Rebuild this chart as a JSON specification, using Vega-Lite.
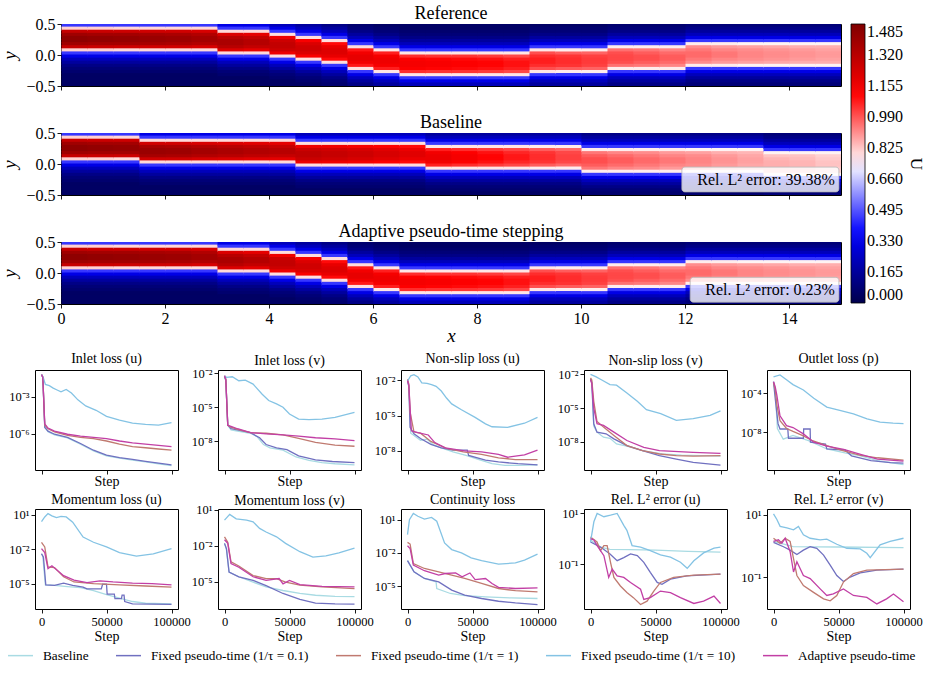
{
"$schema":"https://vega.github.io/schema/vega-lite/v6.json",
"background":"#ffffff",
"padding":{"left":0,"top":4,"right":4,"bottom":4},
"config":{
 "font":"Liberation Serif",
 "view":{"stroke":"#000","strokeWidth":1},
 "axis":{"domain":false,"grid":false,"tickColor":"#000","tickSize":4,"tickWidth":0.9,"labelColor":"#000","titleColor":"#000","titleFontWeight":"normal","labelFlush":false,"labelPadding":2},
 "title":{"fontWeight":"normal","color":"#000","offset":4},
 "legend":{"labelColor":"#000","titleColor":"#000"},
 "range":{"category":["#a9dbe3","#7070c0","#c07a70","#84c3e4","#c23fa5"]}
},
"datasets":{
"R":[
{"x":0,"y":0.45,"u":0.45},{"x":0,"y":0.4,"u":0.81},{"x":0,"y":0.35,"u":1.28},{"x":0,"y":0.3,"u":1.39},{"x":0,"y":0.25,"u":1.44},{"x":0,"y":0.2,"u":1.44},{"x":0,"y":0.15,"u":1.39},{"x":0,"y":0.1,"u":1.28},{"x":0,"y":0.05,"u":0.81},{"x":0,"y":0,"u":0.45},{"x":0,"y":-0.05,"u":0.32},{"x":0,"y":-0.1,"u":0.23},{"x":0,"y":-0.15,"u":0.17},{"x":0,"y":-0.2,"u":0.12},{"x":0,"y":-0.25,"u":0.09},{"x":0,"y":-0.3,"u":0.07},{"x":0,"y":-0.35,"u":0.05},{"x":0,"y":-0.4,"u":0.05},{"x":0,"y":-0.45,"u":0.05},{"x":0,"y":-0.5,"u":0.05},
{"x":0.5,"y":0.45,"u":0.45},{"x":0.5,"y":0.4,"u":0.81},{"x":0.5,"y":0.35,"u":1.27},{"x":0.5,"y":0.3,"u":1.38},{"x":0.5,"y":0.25,"u":1.43},{"x":0.5,"y":0.2,"u":1.43},{"x":0.5,"y":0.15,"u":1.38},{"x":0.5,"y":0.1,"u":1.27},{"x":0.5,"y":0.05,"u":0.81},{"x":0.5,"y":0,"u":0.45},{"x":0.5,"y":-0.05,"u":0.32},{"x":0.5,"y":-0.1,"u":0.23},{"x":0.5,"y":-0.15,"u":0.17},{"x":0.5,"y":-0.2,"u":0.12},{"x":0.5,"y":-0.25,"u":0.09},{"x":0.5,"y":-0.3,"u":0.07},{"x":0.5,"y":-0.35,"u":0.05},{"x":0.5,"y":-0.4,"u":0.05},{"x":0.5,"y":-0.45,"u":0.05},{"x":0.5,"y":-0.5,"u":0.05},
{"x":1,"y":0.45,"u":0.45},{"x":1,"y":0.4,"u":0.8},{"x":1,"y":0.35,"u":1.26},{"x":1,"y":0.3,"u":1.38},{"x":1,"y":0.25,"u":1.42},{"x":1,"y":0.2,"u":1.42},{"x":1,"y":0.15,"u":1.38},{"x":1,"y":0.1,"u":1.26},{"x":1,"y":0.05,"u":0.8},{"x":1,"y":0,"u":0.45},{"x":1,"y":-0.05,"u":0.32},{"x":1,"y":-0.1,"u":0.23},{"x":1,"y":-0.15,"u":0.17},{"x":1,"y":-0.2,"u":0.12},{"x":1,"y":-0.25,"u":0.09},{"x":1,"y":-0.3,"u":0.07},{"x":1,"y":-0.35,"u":0.05},{"x":1,"y":-0.4,"u":0.05},{"x":1,"y":-0.45,"u":0.05},{"x":1,"y":-0.5,"u":0.05},
{"x":1.5,"y":0.45,"u":0.45},{"x":1.5,"y":0.4,"u":0.8},{"x":1.5,"y":0.35,"u":1.25},{"x":1.5,"y":0.3,"u":1.37},{"x":1.5,"y":0.25,"u":1.41},{"x":1.5,"y":0.2,"u":1.41},{"x":1.5,"y":0.15,"u":1.37},{"x":1.5,"y":0.1,"u":1.25},{"x":1.5,"y":0.05,"u":0.8},{"x":1.5,"y":0,"u":0.45},{"x":1.5,"y":-0.05,"u":0.32},{"x":1.5,"y":-0.1,"u":0.23},{"x":1.5,"y":-0.15,"u":0.17},{"x":1.5,"y":-0.2,"u":0.12},{"x":1.5,"y":-0.25,"u":0.09},{"x":1.5,"y":-0.3,"u":0.07},{"x":1.5,"y":-0.35,"u":0.05},{"x":1.5,"y":-0.4,"u":0.05},{"x":1.5,"y":-0.45,"u":0.05},{"x":1.5,"y":-0.5,"u":0.05},
{"x":2,"y":0.45,"u":0.45},{"x":2,"y":0.4,"u":0.8},{"x":2,"y":0.35,"u":1.25},{"x":2,"y":0.3,"u":1.36},{"x":2,"y":0.25,"u":1.4},{"x":2,"y":0.2,"u":1.4},{"x":2,"y":0.15,"u":1.36},{"x":2,"y":0.1,"u":1.25},{"x":2,"y":0.05,"u":0.8},{"x":2,"y":0,"u":0.45},{"x":2,"y":-0.05,"u":0.32},{"x":2,"y":-0.1,"u":0.23},{"x":2,"y":-0.15,"u":0.17},{"x":2,"y":-0.2,"u":0.12},{"x":2,"y":-0.25,"u":0.09},{"x":2,"y":-0.3,"u":0.07},{"x":2,"y":-0.35,"u":0.05},{"x":2,"y":-0.4,"u":0.05},{"x":2,"y":-0.45,"u":0.05},{"x":2,"y":-0.5,"u":0.05},
{"x":2.5,"y":0.45,"u":0.45},{"x":2.5,"y":0.4,"u":0.8},{"x":2.5,"y":0.35,"u":1.23},{"x":2.5,"y":0.3,"u":1.34},{"x":2.5,"y":0.25,"u":1.38},{"x":2.5,"y":0.2,"u":1.38},{"x":2.5,"y":0.15,"u":1.34},{"x":2.5,"y":0.1,"u":1.23},{"x":2.5,"y":0.05,"u":0.8},{"x":2.5,"y":0,"u":0.45},{"x":2.5,"y":-0.05,"u":0.32},{"x":2.5,"y":-0.1,"u":0.23},{"x":2.5,"y":-0.15,"u":0.17},{"x":2.5,"y":-0.2,"u":0.12},{"x":2.5,"y":-0.25,"u":0.09},{"x":2.5,"y":-0.3,"u":0.07},{"x":2.5,"y":-0.35,"u":0.05},{"x":2.5,"y":-0.4,"u":0.05},{"x":2.5,"y":-0.45,"u":0.05},{"x":2.5,"y":-0.5,"u":0.05},
{"x":3,"y":0.45,"u":0.32},{"x":3,"y":0.4,"u":0.45},{"x":3,"y":0.35,"u":0.8},{"x":3,"y":0.3,"u":1.22},{"x":3,"y":0.25,"u":1.32},{"x":3,"y":0.2,"u":1.36},{"x":3,"y":0.15,"u":1.36},{"x":3,"y":0.1,"u":1.32},{"x":3,"y":0.05,"u":1.22},{"x":3,"y":0,"u":0.8},{"x":3,"y":-0.05,"u":0.45},{"x":3,"y":-0.1,"u":0.32},{"x":3,"y":-0.15,"u":0.23},{"x":3,"y":-0.2,"u":0.17},{"x":3,"y":-0.25,"u":0.12},{"x":3,"y":-0.3,"u":0.09},{"x":3,"y":-0.35,"u":0.07},{"x":3,"y":-0.4,"u":0.05},{"x":3,"y":-0.45,"u":0.05},{"x":3,"y":-0.5,"u":0.05},
{"x":3.5,"y":0.45,"u":0.32},{"x":3.5,"y":0.4,"u":0.45},{"x":3.5,"y":0.35,"u":0.8},{"x":3.5,"y":0.3,"u":1.19},{"x":3.5,"y":0.25,"u":1.29},{"x":3.5,"y":0.2,"u":1.33},{"x":3.5,"y":0.15,"u":1.33},{"x":3.5,"y":0.1,"u":1.29},{"x":3.5,"y":0.05,"u":1.19},{"x":3.5,"y":0,"u":0.8},{"x":3.5,"y":-0.05,"u":0.45},{"x":3.5,"y":-0.1,"u":0.32},{"x":3.5,"y":-0.15,"u":0.23},{"x":3.5,"y":-0.2,"u":0.17},{"x":3.5,"y":-0.25,"u":0.12},{"x":3.5,"y":-0.3,"u":0.09},{"x":3.5,"y":-0.35,"u":0.07},{"x":3.5,"y":-0.4,"u":0.05},{"x":3.5,"y":-0.45,"u":0.05},{"x":3.5,"y":-0.5,"u":0.05},
{"x":4,"y":0.45,"u":0.23},{"x":4,"y":0.4,"u":0.32},{"x":4,"y":0.35,"u":0.45},{"x":4,"y":0.3,"u":0.79},{"x":4,"y":0.25,"u":1.16},{"x":4,"y":0.2,"u":1.26},{"x":4,"y":0.15,"u":1.29},{"x":4,"y":0.1,"u":1.29},{"x":4,"y":0.05,"u":1.26},{"x":4,"y":0,"u":1.16},{"x":4,"y":-0.05,"u":0.79},{"x":4,"y":-0.1,"u":0.45},{"x":4,"y":-0.15,"u":0.32},{"x":4,"y":-0.2,"u":0.23},{"x":4,"y":-0.25,"u":0.17},{"x":4,"y":-0.3,"u":0.12},{"x":4,"y":-0.35,"u":0.09},{"x":4,"y":-0.4,"u":0.07},{"x":4,"y":-0.45,"u":0.05},{"x":4,"y":-0.5,"u":0.05},
{"x":4.5,"y":0.45,"u":0.17},{"x":4.5,"y":0.4,"u":0.23},{"x":4.5,"y":0.35,"u":0.32},{"x":4.5,"y":0.3,"u":0.45},{"x":4.5,"y":0.25,"u":0.79},{"x":4.5,"y":0.2,"u":1.13},{"x":4.5,"y":0.15,"u":1.22},{"x":4.5,"y":0.1,"u":1.25},{"x":4.5,"y":0.05,"u":1.25},{"x":4.5,"y":0,"u":1.22},{"x":4.5,"y":-0.05,"u":1.13},{"x":4.5,"y":-0.1,"u":0.79},{"x":4.5,"y":-0.15,"u":0.45},{"x":4.5,"y":-0.2,"u":0.32},{"x":4.5,"y":-0.25,"u":0.23},{"x":4.5,"y":-0.3,"u":0.17},{"x":4.5,"y":-0.35,"u":0.12},{"x":4.5,"y":-0.4,"u":0.09},{"x":4.5,"y":-0.45,"u":0.07},{"x":4.5,"y":-0.5,"u":0.05},
{"x":5,"y":0.45,"u":0.12},{"x":5,"y":0.4,"u":0.17},{"x":5,"y":0.35,"u":0.23},{"x":5,"y":0.3,"u":0.32},{"x":5,"y":0.25,"u":0.45},{"x":5,"y":0.2,"u":0.79},{"x":5,"y":0.15,"u":1.1},{"x":5,"y":0.1,"u":1.18},{"x":5,"y":0.05,"u":1.21},{"x":5,"y":0,"u":1.21},{"x":5,"y":-0.05,"u":1.18},{"x":5,"y":-0.1,"u":1.1},{"x":5,"y":-0.15,"u":0.79},{"x":5,"y":-0.2,"u":0.45},{"x":5,"y":-0.25,"u":0.32},{"x":5,"y":-0.3,"u":0.23},{"x":5,"y":-0.35,"u":0.17},{"x":5,"y":-0.4,"u":0.12},{"x":5,"y":-0.45,"u":0.09},{"x":5,"y":-0.5,"u":0.07},
{"x":5.5,"y":0.45,"u":0.07},{"x":5.5,"y":0.4,"u":0.09},{"x":5.5,"y":0.35,"u":0.12},{"x":5.5,"y":0.3,"u":0.17},{"x":5.5,"y":0.25,"u":0.23},{"x":5.5,"y":0.2,"u":0.32},{"x":5.5,"y":0.15,"u":0.45},{"x":5.5,"y":0.1,"u":0.79},{"x":5.5,"y":0.05,"u":1.08},{"x":5.5,"y":0,"u":1.15},{"x":5.5,"y":-0.05,"u":1.18},{"x":5.5,"y":-0.1,"u":1.18},{"x":5.5,"y":-0.15,"u":1.15},{"x":5.5,"y":-0.2,"u":1.08},{"x":5.5,"y":-0.25,"u":0.79},{"x":5.5,"y":-0.3,"u":0.45},{"x":5.5,"y":-0.35,"u":0.32},{"x":5.5,"y":-0.4,"u":0.23},{"x":5.5,"y":-0.45,"u":0.17},{"x":5.5,"y":-0.5,"u":0.12},
{"x":6,"y":0.45,"u":0.05},{"x":6,"y":0.4,"u":0.07},{"x":6,"y":0.35,"u":0.09},{"x":6,"y":0.3,"u":0.12},{"x":6,"y":0.25,"u":0.17},{"x":6,"y":0.2,"u":0.23},{"x":6,"y":0.15,"u":0.32},{"x":6,"y":0.1,"u":0.45},{"x":6,"y":0.05,"u":0.78},{"x":6,"y":0,"u":1.07},{"x":6,"y":-0.05,"u":1.14},{"x":6,"y":-0.1,"u":1.16},{"x":6,"y":-0.15,"u":1.16},{"x":6,"y":-0.2,"u":1.14},{"x":6,"y":-0.25,"u":1.07},{"x":6,"y":-0.3,"u":0.78},{"x":6,"y":-0.35,"u":0.45},{"x":6,"y":-0.4,"u":0.32},{"x":6,"y":-0.45,"u":0.23},{"x":6,"y":-0.5,"u":0.17},
{"x":6.5,"y":0.45,"u":0.05},{"x":6.5,"y":0.4,"u":0.05},{"x":6.5,"y":0.35,"u":0.07},{"x":6.5,"y":0.3,"u":0.09},{"x":6.5,"y":0.25,"u":0.12},{"x":6.5,"y":0.2,"u":0.17},{"x":6.5,"y":0.15,"u":0.23},{"x":6.5,"y":0.1,"u":0.32},{"x":6.5,"y":0.05,"u":0.45},{"x":6.5,"y":0,"u":0.78},{"x":6.5,"y":-0.05,"u":1.05},{"x":6.5,"y":-0.1,"u":1.12},{"x":6.5,"y":-0.15,"u":1.14},{"x":6.5,"y":-0.2,"u":1.14},{"x":6.5,"y":-0.25,"u":1.12},{"x":6.5,"y":-0.3,"u":1.05},{"x":6.5,"y":-0.35,"u":0.78},{"x":6.5,"y":-0.4,"u":0.45},{"x":6.5,"y":-0.45,"u":0.32},{"x":6.5,"y":-0.5,"u":0.23},
{"x":7,"y":0.45,"u":0.05},{"x":7,"y":0.4,"u":0.05},{"x":7,"y":0.35,"u":0.07},{"x":7,"y":0.3,"u":0.09},{"x":7,"y":0.25,"u":0.12},{"x":7,"y":0.2,"u":0.17},{"x":7,"y":0.15,"u":0.23},{"x":7,"y":0.1,"u":0.32},{"x":7,"y":0.05,"u":0.45},{"x":7,"y":0,"u":0.78},{"x":7,"y":-0.05,"u":1.04},{"x":7,"y":-0.1,"u":1.11},{"x":7,"y":-0.15,"u":1.13},{"x":7,"y":-0.2,"u":1.13},{"x":7,"y":-0.25,"u":1.11},{"x":7,"y":-0.3,"u":1.04},{"x":7,"y":-0.35,"u":0.78},{"x":7,"y":-0.4,"u":0.45},{"x":7,"y":-0.45,"u":0.32},{"x":7,"y":-0.5,"u":0.23},
{"x":7.5,"y":0.45,"u":0.05},{"x":7.5,"y":0.4,"u":0.05},{"x":7.5,"y":0.35,"u":0.07},{"x":7.5,"y":0.3,"u":0.09},{"x":7.5,"y":0.25,"u":0.12},{"x":7.5,"y":0.2,"u":0.17},{"x":7.5,"y":0.15,"u":0.23},{"x":7.5,"y":0.1,"u":0.32},{"x":7.5,"y":0.05,"u":0.45},{"x":7.5,"y":0,"u":0.78},{"x":7.5,"y":-0.05,"u":1.04},{"x":7.5,"y":-0.1,"u":1.1},{"x":7.5,"y":-0.15,"u":1.12},{"x":7.5,"y":-0.2,"u":1.12},{"x":7.5,"y":-0.25,"u":1.1},{"x":7.5,"y":-0.3,"u":1.04},{"x":7.5,"y":-0.35,"u":0.78},{"x":7.5,"y":-0.4,"u":0.45},{"x":7.5,"y":-0.45,"u":0.32},{"x":7.5,"y":-0.5,"u":0.23},
{"x":8,"y":0.45,"u":0.05},{"x":8,"y":0.4,"u":0.05},{"x":8,"y":0.35,"u":0.07},{"x":8,"y":0.3,"u":0.09},{"x":8,"y":0.25,"u":0.12},{"x":8,"y":0.2,"u":0.17},{"x":8,"y":0.15,"u":0.23},{"x":8,"y":0.1,"u":0.32},{"x":8,"y":0.05,"u":0.45},{"x":8,"y":0,"u":0.78},{"x":8,"y":-0.05,"u":1.03},{"x":8,"y":-0.1,"u":1.09},{"x":8,"y":-0.15,"u":1.11},{"x":8,"y":-0.2,"u":1.11},{"x":8,"y":-0.25,"u":1.09},{"x":8,"y":-0.3,"u":1.03},{"x":8,"y":-0.35,"u":0.78},{"x":8,"y":-0.4,"u":0.45},{"x":8,"y":-0.45,"u":0.32},{"x":8,"y":-0.5,"u":0.23},
{"x":8.5,"y":0.45,"u":0.05},{"x":8.5,"y":0.4,"u":0.05},{"x":8.5,"y":0.35,"u":0.07},{"x":8.5,"y":0.3,"u":0.09},{"x":8.5,"y":0.25,"u":0.12},{"x":8.5,"y":0.2,"u":0.17},{"x":8.5,"y":0.15,"u":0.23},{"x":8.5,"y":0.1,"u":0.32},{"x":8.5,"y":0.05,"u":0.45},{"x":8.5,"y":0,"u":0.78},{"x":8.5,"y":-0.05,"u":1.01},{"x":8.5,"y":-0.1,"u":1.07},{"x":8.5,"y":-0.15,"u":1.09},{"x":8.5,"y":-0.2,"u":1.09},{"x":8.5,"y":-0.25,"u":1.07},{"x":8.5,"y":-0.3,"u":1.01},{"x":8.5,"y":-0.35,"u":0.78},{"x":8.5,"y":-0.4,"u":0.45},{"x":8.5,"y":-0.45,"u":0.32},{"x":8.5,"y":-0.5,"u":0.23},
{"x":9,"y":0.45,"u":0.05},{"x":9,"y":0.4,"u":0.07},{"x":9,"y":0.35,"u":0.09},{"x":9,"y":0.3,"u":0.12},{"x":9,"y":0.25,"u":0.17},{"x":9,"y":0.2,"u":0.23},{"x":9,"y":0.15,"u":0.32},{"x":9,"y":0.1,"u":0.45},{"x":9,"y":0.05,"u":0.78},{"x":9,"y":0,"u":1.0},{"x":9,"y":-0.05,"u":1.05},{"x":9,"y":-0.1,"u":1.07},{"x":9,"y":-0.15,"u":1.07},{"x":9,"y":-0.2,"u":1.05},{"x":9,"y":-0.25,"u":1.0},{"x":9,"y":-0.3,"u":0.78},{"x":9,"y":-0.35,"u":0.45},{"x":9,"y":-0.4,"u":0.32},{"x":9,"y":-0.45,"u":0.23},{"x":9,"y":-0.5,"u":0.17},
{"x":9.5,"y":0.45,"u":0.05},{"x":9.5,"y":0.4,"u":0.07},{"x":9.5,"y":0.35,"u":0.09},{"x":9.5,"y":0.3,"u":0.12},{"x":9.5,"y":0.25,"u":0.17},{"x":9.5,"y":0.2,"u":0.23},{"x":9.5,"y":0.15,"u":0.32},{"x":9.5,"y":0.1,"u":0.45},{"x":9.5,"y":0.05,"u":0.77},{"x":9.5,"y":0,"u":0.98},{"x":9.5,"y":-0.05,"u":1.04},{"x":9.5,"y":-0.1,"u":1.05},{"x":9.5,"y":-0.15,"u":1.05},{"x":9.5,"y":-0.2,"u":1.04},{"x":9.5,"y":-0.25,"u":0.98},{"x":9.5,"y":-0.3,"u":0.77},{"x":9.5,"y":-0.35,"u":0.45},{"x":9.5,"y":-0.4,"u":0.32},{"x":9.5,"y":-0.45,"u":0.23},{"x":9.5,"y":-0.5,"u":0.17},
{"x":10,"y":0.45,"u":0.05},{"x":10,"y":0.4,"u":0.07},{"x":10,"y":0.35,"u":0.09},{"x":10,"y":0.3,"u":0.12},{"x":10,"y":0.25,"u":0.17},{"x":10,"y":0.2,"u":0.23},{"x":10,"y":0.15,"u":0.32},{"x":10,"y":0.1,"u":0.45},{"x":10,"y":0.05,"u":0.77},{"x":10,"y":0,"u":0.97},{"x":10,"y":-0.05,"u":1.02},{"x":10,"y":-0.1,"u":1.03},{"x":10,"y":-0.15,"u":1.03},{"x":10,"y":-0.2,"u":1.02},{"x":10,"y":-0.25,"u":0.97},{"x":10,"y":-0.3,"u":0.77},{"x":10,"y":-0.35,"u":0.45},{"x":10,"y":-0.4,"u":0.32},{"x":10,"y":-0.45,"u":0.23},{"x":10,"y":-0.5,"u":0.17},
{"x":10.5,"y":0.45,"u":0.07},{"x":10.5,"y":0.4,"u":0.09},{"x":10.5,"y":0.35,"u":0.12},{"x":10.5,"y":0.3,"u":0.17},{"x":10.5,"y":0.25,"u":0.23},{"x":10.5,"y":0.2,"u":0.32},{"x":10.5,"y":0.15,"u":0.45},{"x":10.5,"y":0.1,"u":0.77},{"x":10.5,"y":0.05,"u":0.95},{"x":10.5,"y":0,"u":1.0},{"x":10.5,"y":-0.05,"u":1.01},{"x":10.5,"y":-0.1,"u":1.01},{"x":10.5,"y":-0.15,"u":1.0},{"x":10.5,"y":-0.2,"u":0.95},{"x":10.5,"y":-0.25,"u":0.77},{"x":10.5,"y":-0.3,"u":0.45},{"x":10.5,"y":-0.35,"u":0.32},{"x":10.5,"y":-0.4,"u":0.23},{"x":10.5,"y":-0.45,"u":0.17},{"x":10.5,"y":-0.5,"u":0.12},
{"x":11,"y":0.45,"u":0.07},{"x":11,"y":0.4,"u":0.09},{"x":11,"y":0.35,"u":0.12},{"x":11,"y":0.3,"u":0.17},{"x":11,"y":0.25,"u":0.23},{"x":11,"y":0.2,"u":0.32},{"x":11,"y":0.15,"u":0.45},{"x":11,"y":0.1,"u":0.77},{"x":11,"y":0.05,"u":0.94},{"x":11,"y":0,"u":0.98},{"x":11,"y":-0.05,"u":1.0},{"x":11,"y":-0.1,"u":1.0},{"x":11,"y":-0.15,"u":0.98},{"x":11,"y":-0.2,"u":0.94},{"x":11,"y":-0.25,"u":0.77},{"x":11,"y":-0.3,"u":0.45},{"x":11,"y":-0.35,"u":0.32},{"x":11,"y":-0.4,"u":0.23},{"x":11,"y":-0.45,"u":0.17},{"x":11,"y":-0.5,"u":0.12},
{"x":11.5,"y":0.45,"u":0.07},{"x":11.5,"y":0.4,"u":0.09},{"x":11.5,"y":0.35,"u":0.12},{"x":11.5,"y":0.3,"u":0.17},{"x":11.5,"y":0.25,"u":0.23},{"x":11.5,"y":0.2,"u":0.32},{"x":11.5,"y":0.15,"u":0.45},{"x":11.5,"y":0.1,"u":0.77},{"x":11.5,"y":0.05,"u":0.92},{"x":11.5,"y":0,"u":0.96},{"x":11.5,"y":-0.05,"u":0.98},{"x":11.5,"y":-0.1,"u":0.98},{"x":11.5,"y":-0.15,"u":0.96},{"x":11.5,"y":-0.2,"u":0.92},{"x":11.5,"y":-0.25,"u":0.77},{"x":11.5,"y":-0.3,"u":0.45},{"x":11.5,"y":-0.35,"u":0.32},{"x":11.5,"y":-0.4,"u":0.23},{"x":11.5,"y":-0.45,"u":0.17},{"x":11.5,"y":-0.5,"u":0.12},
{"x":12,"y":0.45,"u":0.09},{"x":12,"y":0.4,"u":0.12},{"x":12,"y":0.35,"u":0.17},{"x":12,"y":0.3,"u":0.23},{"x":12,"y":0.25,"u":0.32},{"x":12,"y":0.2,"u":0.45},{"x":12,"y":0.15,"u":0.77},{"x":12,"y":0.1,"u":0.91},{"x":12,"y":0.05,"u":0.94},{"x":12,"y":0,"u":0.96},{"x":12,"y":-0.05,"u":0.96},{"x":12,"y":-0.1,"u":0.94},{"x":12,"y":-0.15,"u":0.91},{"x":12,"y":-0.2,"u":0.77},{"x":12,"y":-0.25,"u":0.45},{"x":12,"y":-0.3,"u":0.32},{"x":12,"y":-0.35,"u":0.23},{"x":12,"y":-0.4,"u":0.17},{"x":12,"y":-0.45,"u":0.12},{"x":12,"y":-0.5,"u":0.09},
{"x":12.5,"y":0.45,"u":0.09},{"x":12.5,"y":0.4,"u":0.12},{"x":12.5,"y":0.35,"u":0.17},{"x":12.5,"y":0.3,"u":0.23},{"x":12.5,"y":0.25,"u":0.32},{"x":12.5,"y":0.2,"u":0.45},{"x":12.5,"y":0.15,"u":0.77},{"x":12.5,"y":0.1,"u":0.89},{"x":12.5,"y":0.05,"u":0.92},{"x":12.5,"y":0,"u":0.94},{"x":12.5,"y":-0.05,"u":0.94},{"x":12.5,"y":-0.1,"u":0.92},{"x":12.5,"y":-0.15,"u":0.89},{"x":12.5,"y":-0.2,"u":0.77},{"x":12.5,"y":-0.25,"u":0.45},{"x":12.5,"y":-0.3,"u":0.32},{"x":12.5,"y":-0.35,"u":0.23},{"x":12.5,"y":-0.4,"u":0.17},{"x":12.5,"y":-0.45,"u":0.12},{"x":12.5,"y":-0.5,"u":0.09},
{"x":13,"y":0.45,"u":0.09},{"x":13,"y":0.4,"u":0.12},{"x":13,"y":0.35,"u":0.17},{"x":13,"y":0.3,"u":0.23},{"x":13,"y":0.25,"u":0.32},{"x":13,"y":0.2,"u":0.45},{"x":13,"y":0.15,"u":0.76},{"x":13,"y":0.1,"u":0.88},{"x":13,"y":0.05,"u":0.91},{"x":13,"y":0,"u":0.92},{"x":13,"y":-0.05,"u":0.92},{"x":13,"y":-0.1,"u":0.91},{"x":13,"y":-0.15,"u":0.88},{"x":13,"y":-0.2,"u":0.76},{"x":13,"y":-0.25,"u":0.45},{"x":13,"y":-0.3,"u":0.32},{"x":13,"y":-0.35,"u":0.23},{"x":13,"y":-0.4,"u":0.17},{"x":13,"y":-0.45,"u":0.12},{"x":13,"y":-0.5,"u":0.09},
{"x":13.5,"y":0.45,"u":0.09},{"x":13.5,"y":0.4,"u":0.12},{"x":13.5,"y":0.35,"u":0.17},{"x":13.5,"y":0.3,"u":0.23},{"x":13.5,"y":0.25,"u":0.32},{"x":13.5,"y":0.2,"u":0.45},{"x":13.5,"y":0.15,"u":0.76},{"x":13.5,"y":0.1,"u":0.87},{"x":13.5,"y":0.05,"u":0.9},{"x":13.5,"y":0,"u":0.91},{"x":13.5,"y":-0.05,"u":0.91},{"x":13.5,"y":-0.1,"u":0.9},{"x":13.5,"y":-0.15,"u":0.87},{"x":13.5,"y":-0.2,"u":0.76},{"x":13.5,"y":-0.25,"u":0.45},{"x":13.5,"y":-0.3,"u":0.32},{"x":13.5,"y":-0.35,"u":0.23},{"x":13.5,"y":-0.4,"u":0.17},{"x":13.5,"y":-0.45,"u":0.12},{"x":13.5,"y":-0.5,"u":0.09},
{"x":14,"y":0.45,"u":0.09},{"x":14,"y":0.4,"u":0.12},{"x":14,"y":0.35,"u":0.17},{"x":14,"y":0.3,"u":0.23},{"x":14,"y":0.25,"u":0.32},{"x":14,"y":0.2,"u":0.45},{"x":14,"y":0.15,"u":0.76},{"x":14,"y":0.1,"u":0.86},{"x":14,"y":0.05,"u":0.89},{"x":14,"y":0,"u":0.9},{"x":14,"y":-0.05,"u":0.9},{"x":14,"y":-0.1,"u":0.89},{"x":14,"y":-0.15,"u":0.86},{"x":14,"y":-0.2,"u":0.76},{"x":14,"y":-0.25,"u":0.45},{"x":14,"y":-0.3,"u":0.32},{"x":14,"y":-0.35,"u":0.23},{"x":14,"y":-0.4,"u":0.17},{"x":14,"y":-0.45,"u":0.12},{"x":14,"y":-0.5,"u":0.09},
{"x":14.5,"y":0.45,"u":0.09},{"x":14.5,"y":0.4,"u":0.12},{"x":14.5,"y":0.35,"u":0.17},{"x":14.5,"y":0.3,"u":0.23},{"x":14.5,"y":0.25,"u":0.32},{"x":14.5,"y":0.2,"u":0.45},{"x":14.5,"y":0.15,"u":0.76},{"x":14.5,"y":0.1,"u":0.86},{"x":14.5,"y":0.05,"u":0.88},{"x":14.5,"y":0,"u":0.89},{"x":14.5,"y":-0.05,"u":0.89},{"x":14.5,"y":-0.1,"u":0.88},{"x":14.5,"y":-0.15,"u":0.86},{"x":14.5,"y":-0.2,"u":0.76},{"x":14.5,"y":-0.25,"u":0.45},{"x":14.5,"y":-0.3,"u":0.32},{"x":14.5,"y":-0.35,"u":0.23},{"x":14.5,"y":-0.4,"u":0.17},{"x":14.5,"y":-0.45,"u":0.12},{"x":14.5,"y":-0.5,"u":0.09}
],
"B":[
{"x":0,"y":0.45,"u":0.45},{"x":0,"y":0.4,"u":0.81},{"x":0,"y":0.35,"u":1.28},{"x":0,"y":0.3,"u":1.39},{"x":0,"y":0.25,"u":1.44},{"x":0,"y":0.2,"u":1.44},{"x":0,"y":0.15,"u":1.39},{"x":0,"y":0.1,"u":1.28},{"x":0,"y":0.05,"u":0.81},{"x":0,"y":0,"u":0.45},{"x":0,"y":-0.05,"u":0.32},{"x":0,"y":-0.1,"u":0.23},{"x":0,"y":-0.15,"u":0.17},{"x":0,"y":-0.2,"u":0.12},{"x":0,"y":-0.25,"u":0.09},{"x":0,"y":-0.3,"u":0.07},{"x":0,"y":-0.35,"u":0.05},{"x":0,"y":-0.4,"u":0.05},{"x":0,"y":-0.45,"u":0.05},{"x":0,"y":-0.5,"u":0.05},
{"x":0.5,"y":0.45,"u":0.45},{"x":0.5,"y":0.4,"u":0.81},{"x":0.5,"y":0.35,"u":1.27},{"x":0.5,"y":0.3,"u":1.38},{"x":0.5,"y":0.25,"u":1.43},{"x":0.5,"y":0.2,"u":1.43},{"x":0.5,"y":0.15,"u":1.38},{"x":0.5,"y":0.1,"u":1.27},{"x":0.5,"y":0.05,"u":0.81},{"x":0.5,"y":0,"u":0.45},{"x":0.5,"y":-0.05,"u":0.32},{"x":0.5,"y":-0.1,"u":0.23},{"x":0.5,"y":-0.15,"u":0.17},{"x":0.5,"y":-0.2,"u":0.12},{"x":0.5,"y":-0.25,"u":0.09},{"x":0.5,"y":-0.3,"u":0.07},{"x":0.5,"y":-0.35,"u":0.05},{"x":0.5,"y":-0.4,"u":0.05},{"x":0.5,"y":-0.45,"u":0.05},{"x":0.5,"y":-0.5,"u":0.05},
{"x":1,"y":0.45,"u":0.45},{"x":1,"y":0.4,"u":0.8},{"x":1,"y":0.35,"u":1.26},{"x":1,"y":0.3,"u":1.38},{"x":1,"y":0.25,"u":1.42},{"x":1,"y":0.2,"u":1.42},{"x":1,"y":0.15,"u":1.38},{"x":1,"y":0.1,"u":1.26},{"x":1,"y":0.05,"u":0.8},{"x":1,"y":0,"u":0.45},{"x":1,"y":-0.05,"u":0.32},{"x":1,"y":-0.1,"u":0.23},{"x":1,"y":-0.15,"u":0.17},{"x":1,"y":-0.2,"u":0.12},{"x":1,"y":-0.25,"u":0.09},{"x":1,"y":-0.3,"u":0.07},{"x":1,"y":-0.35,"u":0.05},{"x":1,"y":-0.4,"u":0.05},{"x":1,"y":-0.45,"u":0.05},{"x":1,"y":-0.5,"u":0.05},
{"x":1.5,"y":0.45,"u":0.32},{"x":1.5,"y":0.4,"u":0.45},{"x":1.5,"y":0.35,"u":0.8},{"x":1.5,"y":0.3,"u":1.25},{"x":1.5,"y":0.25,"u":1.37},{"x":1.5,"y":0.2,"u":1.41},{"x":1.5,"y":0.15,"u":1.41},{"x":1.5,"y":0.1,"u":1.37},{"x":1.5,"y":0.05,"u":1.25},{"x":1.5,"y":0,"u":0.8},{"x":1.5,"y":-0.05,"u":0.45},{"x":1.5,"y":-0.1,"u":0.32},{"x":1.5,"y":-0.15,"u":0.23},{"x":1.5,"y":-0.2,"u":0.17},{"x":1.5,"y":-0.25,"u":0.12},{"x":1.5,"y":-0.3,"u":0.09},{"x":1.5,"y":-0.35,"u":0.07},{"x":1.5,"y":-0.4,"u":0.05},{"x":1.5,"y":-0.45,"u":0.05},{"x":1.5,"y":-0.5,"u":0.05},
{"x":2,"y":0.45,"u":0.32},{"x":2,"y":0.4,"u":0.45},{"x":2,"y":0.35,"u":0.8},{"x":2,"y":0.3,"u":1.25},{"x":2,"y":0.25,"u":1.36},{"x":2,"y":0.2,"u":1.4},{"x":2,"y":0.15,"u":1.4},{"x":2,"y":0.1,"u":1.36},{"x":2,"y":0.05,"u":1.25},{"x":2,"y":0,"u":0.8},{"x":2,"y":-0.05,"u":0.45},{"x":2,"y":-0.1,"u":0.32},{"x":2,"y":-0.15,"u":0.23},{"x":2,"y":-0.2,"u":0.17},{"x":2,"y":-0.25,"u":0.12},{"x":2,"y":-0.3,"u":0.09},{"x":2,"y":-0.35,"u":0.07},{"x":2,"y":-0.4,"u":0.05},{"x":2,"y":-0.45,"u":0.05},{"x":2,"y":-0.5,"u":0.05},
{"x":2.5,"y":0.45,"u":0.32},{"x":2.5,"y":0.4,"u":0.45},{"x":2.5,"y":0.35,"u":0.8},{"x":2.5,"y":0.3,"u":1.23},{"x":2.5,"y":0.25,"u":1.34},{"x":2.5,"y":0.2,"u":1.38},{"x":2.5,"y":0.15,"u":1.38},{"x":2.5,"y":0.1,"u":1.34},{"x":2.5,"y":0.05,"u":1.23},{"x":2.5,"y":0,"u":0.8},{"x":2.5,"y":-0.05,"u":0.45},{"x":2.5,"y":-0.1,"u":0.32},{"x":2.5,"y":-0.15,"u":0.23},{"x":2.5,"y":-0.2,"u":0.17},{"x":2.5,"y":-0.25,"u":0.12},{"x":2.5,"y":-0.3,"u":0.09},{"x":2.5,"y":-0.35,"u":0.07},{"x":2.5,"y":-0.4,"u":0.05},{"x":2.5,"y":-0.45,"u":0.05},{"x":2.5,"y":-0.5,"u":0.05},
{"x":3,"y":0.45,"u":0.32},{"x":3,"y":0.4,"u":0.45},{"x":3,"y":0.35,"u":0.8},{"x":3,"y":0.3,"u":1.22},{"x":3,"y":0.25,"u":1.32},{"x":3,"y":0.2,"u":1.36},{"x":3,"y":0.15,"u":1.36},{"x":3,"y":0.1,"u":1.32},{"x":3,"y":0.05,"u":1.22},{"x":3,"y":0,"u":0.8},{"x":3,"y":-0.05,"u":0.45},{"x":3,"y":-0.1,"u":0.32},{"x":3,"y":-0.15,"u":0.23},{"x":3,"y":-0.2,"u":0.17},{"x":3,"y":-0.25,"u":0.12},{"x":3,"y":-0.3,"u":0.09},{"x":3,"y":-0.35,"u":0.07},{"x":3,"y":-0.4,"u":0.05},{"x":3,"y":-0.45,"u":0.05},{"x":3,"y":-0.5,"u":0.05},
{"x":3.5,"y":0.45,"u":0.32},{"x":3.5,"y":0.4,"u":0.45},{"x":3.5,"y":0.35,"u":0.8},{"x":3.5,"y":0.3,"u":1.2},{"x":3.5,"y":0.25,"u":1.3},{"x":3.5,"y":0.2,"u":1.34},{"x":3.5,"y":0.15,"u":1.34},{"x":3.5,"y":0.1,"u":1.3},{"x":3.5,"y":0.05,"u":1.2},{"x":3.5,"y":0,"u":0.8},{"x":3.5,"y":-0.05,"u":0.45},{"x":3.5,"y":-0.1,"u":0.32},{"x":3.5,"y":-0.15,"u":0.23},{"x":3.5,"y":-0.2,"u":0.17},{"x":3.5,"y":-0.25,"u":0.12},{"x":3.5,"y":-0.3,"u":0.09},{"x":3.5,"y":-0.35,"u":0.07},{"x":3.5,"y":-0.4,"u":0.05},{"x":3.5,"y":-0.45,"u":0.05},{"x":3.5,"y":-0.5,"u":0.05},
{"x":4,"y":0.45,"u":0.32},{"x":4,"y":0.4,"u":0.45},{"x":4,"y":0.35,"u":0.8},{"x":4,"y":0.3,"u":1.19},{"x":4,"y":0.25,"u":1.28},{"x":4,"y":0.2,"u":1.32},{"x":4,"y":0.15,"u":1.32},{"x":4,"y":0.1,"u":1.28},{"x":4,"y":0.05,"u":1.19},{"x":4,"y":0,"u":0.8},{"x":4,"y":-0.05,"u":0.45},{"x":4,"y":-0.1,"u":0.32},{"x":4,"y":-0.15,"u":0.23},{"x":4,"y":-0.2,"u":0.17},{"x":4,"y":-0.25,"u":0.12},{"x":4,"y":-0.3,"u":0.09},{"x":4,"y":-0.35,"u":0.07},{"x":4,"y":-0.4,"u":0.05},{"x":4,"y":-0.45,"u":0.05},{"x":4,"y":-0.5,"u":0.05},
{"x":4.5,"y":0.45,"u":0.23},{"x":4.5,"y":0.4,"u":0.32},{"x":4.5,"y":0.35,"u":0.45},{"x":4.5,"y":0.3,"u":0.79},{"x":4.5,"y":0.25,"u":1.17},{"x":4.5,"y":0.2,"u":1.27},{"x":4.5,"y":0.15,"u":1.3},{"x":4.5,"y":0.1,"u":1.3},{"x":4.5,"y":0.05,"u":1.27},{"x":4.5,"y":0,"u":1.17},{"x":4.5,"y":-0.05,"u":0.79},{"x":4.5,"y":-0.1,"u":0.45},{"x":4.5,"y":-0.15,"u":0.32},{"x":4.5,"y":-0.2,"u":0.23},{"x":4.5,"y":-0.25,"u":0.17},{"x":4.5,"y":-0.3,"u":0.12},{"x":4.5,"y":-0.35,"u":0.09},{"x":4.5,"y":-0.4,"u":0.07},{"x":4.5,"y":-0.45,"u":0.05},{"x":4.5,"y":-0.5,"u":0.05},
{"x":5,"y":0.45,"u":0.23},{"x":5,"y":0.4,"u":0.32},{"x":5,"y":0.35,"u":0.45},{"x":5,"y":0.3,"u":0.79},{"x":5,"y":0.25,"u":1.16},{"x":5,"y":0.2,"u":1.25},{"x":5,"y":0.15,"u":1.28},{"x":5,"y":0.1,"u":1.28},{"x":5,"y":0.05,"u":1.25},{"x":5,"y":0,"u":1.16},{"x":5,"y":-0.05,"u":0.79},{"x":5,"y":-0.1,"u":0.45},{"x":5,"y":-0.15,"u":0.32},{"x":5,"y":-0.2,"u":0.23},{"x":5,"y":-0.25,"u":0.17},{"x":5,"y":-0.3,"u":0.12},{"x":5,"y":-0.35,"u":0.09},{"x":5,"y":-0.4,"u":0.07},{"x":5,"y":-0.45,"u":0.05},{"x":5,"y":-0.5,"u":0.05},
{"x":5.5,"y":0.45,"u":0.23},{"x":5.5,"y":0.4,"u":0.32},{"x":5.5,"y":0.35,"u":0.45},{"x":5.5,"y":0.3,"u":0.79},{"x":5.5,"y":0.25,"u":1.14},{"x":5.5,"y":0.2,"u":1.23},{"x":5.5,"y":0.15,"u":1.26},{"x":5.5,"y":0.1,"u":1.26},{"x":5.5,"y":0.05,"u":1.23},{"x":5.5,"y":0,"u":1.14},{"x":5.5,"y":-0.05,"u":0.79},{"x":5.5,"y":-0.1,"u":0.45},{"x":5.5,"y":-0.15,"u":0.32},{"x":5.5,"y":-0.2,"u":0.23},{"x":5.5,"y":-0.25,"u":0.17},{"x":5.5,"y":-0.3,"u":0.12},{"x":5.5,"y":-0.35,"u":0.09},{"x":5.5,"y":-0.4,"u":0.07},{"x":5.5,"y":-0.45,"u":0.05},{"x":5.5,"y":-0.5,"u":0.05},
{"x":6,"y":0.45,"u":0.23},{"x":6,"y":0.4,"u":0.32},{"x":6,"y":0.35,"u":0.45},{"x":6,"y":0.3,"u":0.79},{"x":6,"y":0.25,"u":1.12},{"x":6,"y":0.2,"u":1.2},{"x":6,"y":0.15,"u":1.23},{"x":6,"y":0.1,"u":1.23},{"x":6,"y":0.05,"u":1.2},{"x":6,"y":0,"u":1.12},{"x":6,"y":-0.05,"u":0.79},{"x":6,"y":-0.1,"u":0.45},{"x":6,"y":-0.15,"u":0.32},{"x":6,"y":-0.2,"u":0.23},{"x":6,"y":-0.25,"u":0.17},{"x":6,"y":-0.3,"u":0.12},{"x":6,"y":-0.35,"u":0.09},{"x":6,"y":-0.4,"u":0.07},{"x":6,"y":-0.45,"u":0.05},{"x":6,"y":-0.5,"u":0.05},
{"x":6.5,"y":0.45,"u":0.23},{"x":6.5,"y":0.4,"u":0.32},{"x":6.5,"y":0.35,"u":0.45},{"x":6.5,"y":0.3,"u":0.79},{"x":6.5,"y":0.25,"u":1.1},{"x":6.5,"y":0.2,"u":1.17},{"x":6.5,"y":0.15,"u":1.2},{"x":6.5,"y":0.1,"u":1.2},{"x":6.5,"y":0.05,"u":1.17},{"x":6.5,"y":0,"u":1.1},{"x":6.5,"y":-0.05,"u":0.79},{"x":6.5,"y":-0.1,"u":0.45},{"x":6.5,"y":-0.15,"u":0.32},{"x":6.5,"y":-0.2,"u":0.23},{"x":6.5,"y":-0.25,"u":0.17},{"x":6.5,"y":-0.3,"u":0.12},{"x":6.5,"y":-0.35,"u":0.09},{"x":6.5,"y":-0.4,"u":0.07},{"x":6.5,"y":-0.45,"u":0.05},{"x":6.5,"y":-0.5,"u":0.05},
{"x":7,"y":0.45,"u":0.17},{"x":7,"y":0.4,"u":0.23},{"x":7,"y":0.35,"u":0.32},{"x":7,"y":0.3,"u":0.45},{"x":7,"y":0.25,"u":0.78},{"x":7,"y":0.2,"u":1.07},{"x":7,"y":0.15,"u":1.15},{"x":7,"y":0.1,"u":1.17},{"x":7,"y":0.05,"u":1.17},{"x":7,"y":0,"u":1.15},{"x":7,"y":-0.05,"u":1.07},{"x":7,"y":-0.1,"u":0.78},{"x":7,"y":-0.15,"u":0.45},{"x":7,"y":-0.2,"u":0.32},{"x":7,"y":-0.25,"u":0.23},{"x":7,"y":-0.3,"u":0.17},{"x":7,"y":-0.35,"u":0.12},{"x":7,"y":-0.4,"u":0.09},{"x":7,"y":-0.45,"u":0.07},{"x":7,"y":-0.5,"u":0.05},
{"x":7.5,"y":0.45,"u":0.17},{"x":7.5,"y":0.4,"u":0.23},{"x":7.5,"y":0.35,"u":0.32},{"x":7.5,"y":0.3,"u":0.45},{"x":7.5,"y":0.25,"u":0.78},{"x":7.5,"y":0.2,"u":1.05},{"x":7.5,"y":0.15,"u":1.12},{"x":7.5,"y":0.1,"u":1.14},{"x":7.5,"y":0.05,"u":1.14},{"x":7.5,"y":0,"u":1.12},{"x":7.5,"y":-0.05,"u":1.05},{"x":7.5,"y":-0.1,"u":0.78},{"x":7.5,"y":-0.15,"u":0.45},{"x":7.5,"y":-0.2,"u":0.32},{"x":7.5,"y":-0.25,"u":0.23},{"x":7.5,"y":-0.3,"u":0.17},{"x":7.5,"y":-0.35,"u":0.12},{"x":7.5,"y":-0.4,"u":0.09},{"x":7.5,"y":-0.45,"u":0.07},{"x":7.5,"y":-0.5,"u":0.05},
{"x":8,"y":0.45,"u":0.17},{"x":8,"y":0.4,"u":0.23},{"x":8,"y":0.35,"u":0.32},{"x":8,"y":0.3,"u":0.45},{"x":8,"y":0.25,"u":0.78},{"x":8,"y":0.2,"u":1.03},{"x":8,"y":0.15,"u":1.09},{"x":8,"y":0.1,"u":1.11},{"x":8,"y":0.05,"u":1.11},{"x":8,"y":0,"u":1.09},{"x":8,"y":-0.05,"u":1.03},{"x":8,"y":-0.1,"u":0.78},{"x":8,"y":-0.15,"u":0.45},{"x":8,"y":-0.2,"u":0.32},{"x":8,"y":-0.25,"u":0.23},{"x":8,"y":-0.3,"u":0.17},{"x":8,"y":-0.35,"u":0.12},{"x":8,"y":-0.4,"u":0.09},{"x":8,"y":-0.45,"u":0.07},{"x":8,"y":-0.5,"u":0.05},
{"x":8.5,"y":0.45,"u":0.17},{"x":8.5,"y":0.4,"u":0.23},{"x":8.5,"y":0.35,"u":0.32},{"x":8.5,"y":0.3,"u":0.45},{"x":8.5,"y":0.25,"u":0.78},{"x":8.5,"y":0.2,"u":1.01},{"x":8.5,"y":0.15,"u":1.06},{"x":8.5,"y":0.1,"u":1.08},{"x":8.5,"y":0.05,"u":1.08},{"x":8.5,"y":0,"u":1.06},{"x":8.5,"y":-0.05,"u":1.01},{"x":8.5,"y":-0.1,"u":0.78},{"x":8.5,"y":-0.15,"u":0.45},{"x":8.5,"y":-0.2,"u":0.32},{"x":8.5,"y":-0.25,"u":0.23},{"x":8.5,"y":-0.3,"u":0.17},{"x":8.5,"y":-0.35,"u":0.12},{"x":8.5,"y":-0.4,"u":0.09},{"x":8.5,"y":-0.45,"u":0.07},{"x":8.5,"y":-0.5,"u":0.05},
{"x":9,"y":0.45,"u":0.17},{"x":9,"y":0.4,"u":0.23},{"x":9,"y":0.35,"u":0.32},{"x":9,"y":0.3,"u":0.45},{"x":9,"y":0.25,"u":0.77},{"x":9,"y":0.2,"u":0.98},{"x":9,"y":0.15,"u":1.04},{"x":9,"y":0.1,"u":1.05},{"x":9,"y":0.05,"u":1.05},{"x":9,"y":0,"u":1.04},{"x":9,"y":-0.05,"u":0.98},{"x":9,"y":-0.1,"u":0.77},{"x":9,"y":-0.15,"u":0.45},{"x":9,"y":-0.2,"u":0.32},{"x":9,"y":-0.25,"u":0.23},{"x":9,"y":-0.3,"u":0.17},{"x":9,"y":-0.35,"u":0.12},{"x":9,"y":-0.4,"u":0.09},{"x":9,"y":-0.45,"u":0.07},{"x":9,"y":-0.5,"u":0.05},
{"x":9.5,"y":0.45,"u":0.17},{"x":9.5,"y":0.4,"u":0.23},{"x":9.5,"y":0.35,"u":0.32},{"x":9.5,"y":0.3,"u":0.45},{"x":9.5,"y":0.25,"u":0.77},{"x":9.5,"y":0.2,"u":0.96},{"x":9.5,"y":0.15,"u":1.01},{"x":9.5,"y":0.1,"u":1.02},{"x":9.5,"y":0.05,"u":1.02},{"x":9.5,"y":0,"u":1.01},{"x":9.5,"y":-0.05,"u":0.96},{"x":9.5,"y":-0.1,"u":0.77},{"x":9.5,"y":-0.15,"u":0.45},{"x":9.5,"y":-0.2,"u":0.32},{"x":9.5,"y":-0.25,"u":0.23},{"x":9.5,"y":-0.3,"u":0.17},{"x":9.5,"y":-0.35,"u":0.12},{"x":9.5,"y":-0.4,"u":0.09},{"x":9.5,"y":-0.45,"u":0.07},{"x":9.5,"y":-0.5,"u":0.05},
{"x":10,"y":0.45,"u":0.12},{"x":10,"y":0.4,"u":0.17},{"x":10,"y":0.35,"u":0.23},{"x":10,"y":0.3,"u":0.32},{"x":10,"y":0.25,"u":0.45},{"x":10,"y":0.2,"u":0.77},{"x":10,"y":0.15,"u":0.94},{"x":10,"y":0.1,"u":0.98},{"x":10,"y":0.05,"u":1.0},{"x":10,"y":0,"u":1.0},{"x":10,"y":-0.05,"u":0.98},{"x":10,"y":-0.1,"u":0.94},{"x":10,"y":-0.15,"u":0.77},{"x":10,"y":-0.2,"u":0.45},{"x":10,"y":-0.25,"u":0.32},{"x":10,"y":-0.3,"u":0.23},{"x":10,"y":-0.35,"u":0.17},{"x":10,"y":-0.4,"u":0.12},{"x":10,"y":-0.45,"u":0.09},{"x":10,"y":-0.5,"u":0.07},
{"x":10.5,"y":0.45,"u":0.12},{"x":10.5,"y":0.4,"u":0.17},{"x":10.5,"y":0.35,"u":0.23},{"x":10.5,"y":0.3,"u":0.32},{"x":10.5,"y":0.25,"u":0.45},{"x":10.5,"y":0.2,"u":0.77},{"x":10.5,"y":0.15,"u":0.92},{"x":10.5,"y":0.1,"u":0.96},{"x":10.5,"y":0.05,"u":0.98},{"x":10.5,"y":0,"u":0.98},{"x":10.5,"y":-0.05,"u":0.96},{"x":10.5,"y":-0.1,"u":0.92},{"x":10.5,"y":-0.15,"u":0.77},{"x":10.5,"y":-0.2,"u":0.45},{"x":10.5,"y":-0.25,"u":0.32},{"x":10.5,"y":-0.3,"u":0.23},{"x":10.5,"y":-0.35,"u":0.17},{"x":10.5,"y":-0.4,"u":0.12},{"x":10.5,"y":-0.45,"u":0.09},{"x":10.5,"y":-0.5,"u":0.07},
{"x":11,"y":0.45,"u":0.12},{"x":11,"y":0.4,"u":0.17},{"x":11,"y":0.35,"u":0.23},{"x":11,"y":0.3,"u":0.32},{"x":11,"y":0.25,"u":0.45},{"x":11,"y":0.2,"u":0.77},{"x":11,"y":0.15,"u":0.91},{"x":11,"y":0.1,"u":0.94},{"x":11,"y":0.05,"u":0.96},{"x":11,"y":0,"u":0.96},{"x":11,"y":-0.05,"u":0.94},{"x":11,"y":-0.1,"u":0.91},{"x":11,"y":-0.15,"u":0.77},{"x":11,"y":-0.2,"u":0.45},{"x":11,"y":-0.25,"u":0.32},{"x":11,"y":-0.3,"u":0.23},{"x":11,"y":-0.35,"u":0.17},{"x":11,"y":-0.4,"u":0.12},{"x":11,"y":-0.45,"u":0.09},{"x":11,"y":-0.5,"u":0.07},
{"x":11.5,"y":0.45,"u":0.12},{"x":11.5,"y":0.4,"u":0.17},{"x":11.5,"y":0.35,"u":0.23},{"x":11.5,"y":0.3,"u":0.32},{"x":11.5,"y":0.25,"u":0.45},{"x":11.5,"y":0.2,"u":0.77},{"x":11.5,"y":0.15,"u":0.89},{"x":11.5,"y":0.1,"u":0.92},{"x":11.5,"y":0.05,"u":0.94},{"x":11.5,"y":0,"u":0.94},{"x":11.5,"y":-0.05,"u":0.92},{"x":11.5,"y":-0.1,"u":0.89},{"x":11.5,"y":-0.15,"u":0.77},{"x":11.5,"y":-0.2,"u":0.45},{"x":11.5,"y":-0.25,"u":0.32},{"x":11.5,"y":-0.3,"u":0.23},{"x":11.5,"y":-0.35,"u":0.17},{"x":11.5,"y":-0.4,"u":0.12},{"x":11.5,"y":-0.45,"u":0.09},{"x":11.5,"y":-0.5,"u":0.07},
{"x":12,"y":0.45,"u":0.12},{"x":12,"y":0.4,"u":0.17},{"x":12,"y":0.35,"u":0.23},{"x":12,"y":0.3,"u":0.32},{"x":12,"y":0.25,"u":0.45},{"x":12,"y":0.2,"u":0.76},{"x":12,"y":0.15,"u":0.88},{"x":12,"y":0.1,"u":0.91},{"x":12,"y":0.05,"u":0.92},{"x":12,"y":0,"u":0.92},{"x":12,"y":-0.05,"u":0.91},{"x":12,"y":-0.1,"u":0.88},{"x":12,"y":-0.15,"u":0.76},{"x":12,"y":-0.2,"u":0.45},{"x":12,"y":-0.25,"u":0.32},{"x":12,"y":-0.3,"u":0.23},{"x":12,"y":-0.35,"u":0.17},{"x":12,"y":-0.4,"u":0.12},{"x":12,"y":-0.45,"u":0.09},{"x":12,"y":-0.5,"u":0.07},
{"x":12.5,"y":0.45,"u":0.12},{"x":12.5,"y":0.4,"u":0.17},{"x":12.5,"y":0.35,"u":0.23},{"x":12.5,"y":0.3,"u":0.32},{"x":12.5,"y":0.25,"u":0.45},{"x":12.5,"y":0.2,"u":0.76},{"x":12.5,"y":0.15,"u":0.86},{"x":12.5,"y":0.1,"u":0.89},{"x":12.5,"y":0.05,"u":0.9},{"x":12.5,"y":0,"u":0.9},{"x":12.5,"y":-0.05,"u":0.89},{"x":12.5,"y":-0.1,"u":0.86},{"x":12.5,"y":-0.15,"u":0.76},{"x":12.5,"y":-0.2,"u":0.45},{"x":12.5,"y":-0.25,"u":0.32},{"x":12.5,"y":-0.3,"u":0.23},{"x":12.5,"y":-0.35,"u":0.17},{"x":12.5,"y":-0.4,"u":0.12},{"x":12.5,"y":-0.45,"u":0.09},{"x":12.5,"y":-0.5,"u":0.07},
{"x":13,"y":0.45,"u":0.12},{"x":13,"y":0.4,"u":0.17},{"x":13,"y":0.35,"u":0.23},{"x":13,"y":0.3,"u":0.32},{"x":13,"y":0.25,"u":0.45},{"x":13,"y":0.2,"u":0.76},{"x":13,"y":0.15,"u":0.85},{"x":13,"y":0.1,"u":0.87},{"x":13,"y":0.05,"u":0.88},{"x":13,"y":0,"u":0.88},{"x":13,"y":-0.05,"u":0.87},{"x":13,"y":-0.1,"u":0.85},{"x":13,"y":-0.15,"u":0.76},{"x":13,"y":-0.2,"u":0.45},{"x":13,"y":-0.25,"u":0.32},{"x":13,"y":-0.3,"u":0.23},{"x":13,"y":-0.35,"u":0.17},{"x":13,"y":-0.4,"u":0.12},{"x":13,"y":-0.45,"u":0.09},{"x":13,"y":-0.5,"u":0.07},
{"x":13.5,"y":0.45,"u":0.09},{"x":13.5,"y":0.4,"u":0.12},{"x":13.5,"y":0.35,"u":0.17},{"x":13.5,"y":0.3,"u":0.23},{"x":13.5,"y":0.25,"u":0.32},{"x":13.5,"y":0.2,"u":0.45},{"x":13.5,"y":0.15,"u":0.76},{"x":13.5,"y":0.1,"u":0.83},{"x":13.5,"y":0.05,"u":0.85},{"x":13.5,"y":0,"u":0.86},{"x":13.5,"y":-0.05,"u":0.86},{"x":13.5,"y":-0.1,"u":0.85},{"x":13.5,"y":-0.15,"u":0.83},{"x":13.5,"y":-0.2,"u":0.76},{"x":13.5,"y":-0.25,"u":0.45},{"x":13.5,"y":-0.3,"u":0.32},{"x":13.5,"y":-0.35,"u":0.23},{"x":13.5,"y":-0.4,"u":0.17},{"x":13.5,"y":-0.45,"u":0.12},{"x":13.5,"y":-0.5,"u":0.09},
{"x":14,"y":0.45,"u":0.09},{"x":14,"y":0.4,"u":0.12},{"x":14,"y":0.35,"u":0.17},{"x":14,"y":0.3,"u":0.23},{"x":14,"y":0.25,"u":0.32},{"x":14,"y":0.2,"u":0.45},{"x":14,"y":0.15,"u":0.76},{"x":14,"y":0.1,"u":0.83},{"x":14,"y":0.05,"u":0.84},{"x":14,"y":0,"u":0.85},{"x":14,"y":-0.05,"u":0.85},{"x":14,"y":-0.1,"u":0.84},{"x":14,"y":-0.15,"u":0.83},{"x":14,"y":-0.2,"u":0.76},{"x":14,"y":-0.25,"u":0.45},{"x":14,"y":-0.3,"u":0.32},{"x":14,"y":-0.35,"u":0.23},{"x":14,"y":-0.4,"u":0.17},{"x":14,"y":-0.45,"u":0.12},{"x":14,"y":-0.5,"u":0.09},
{"x":14.5,"y":0.45,"u":0.09},{"x":14.5,"y":0.4,"u":0.12},{"x":14.5,"y":0.35,"u":0.17},{"x":14.5,"y":0.3,"u":0.23},{"x":14.5,"y":0.25,"u":0.32},{"x":14.5,"y":0.2,"u":0.45},{"x":14.5,"y":0.15,"u":0.76},{"x":14.5,"y":0.1,"u":0.81},{"x":14.5,"y":0.05,"u":0.82},{"x":14.5,"y":0,"u":0.83},{"x":14.5,"y":-0.05,"u":0.83},{"x":14.5,"y":-0.1,"u":0.82},{"x":14.5,"y":-0.15,"u":0.81},{"x":14.5,"y":-0.2,"u":0.76},{"x":14.5,"y":-0.25,"u":0.45},{"x":14.5,"y":-0.3,"u":0.32},{"x":14.5,"y":-0.35,"u":0.23},{"x":14.5,"y":-0.4,"u":0.17},{"x":14.5,"y":-0.45,"u":0.12},{"x":14.5,"y":-0.5,"u":0.09}
],
"L":[
{"p":1,"s":1,"x":0,"y":0.0631},{"p":1,"s":1,"x":1000,"y":0.0447},{"p":1,"s":1,"x":2500,"y":3.98e-6},{"p":1,"s":1,"x":5000,"y":1.41e-6},{"p":1,"s":1,"x":10000,"y":7.94e-7},{"p":1,"s":1,"x":20000,"y":4.47e-7},{"p":1,"s":1,"x":30000,"y":1.41e-7},{"p":1,"s":1,"x":40000,"y":3.98e-8},{"p":1,"s":1,"x":50000,"y":1.58e-8},{"p":1,"s":1,"x":60000,"y":1e-8},{"p":1,"s":1,"x":70000,"y":7.08e-9},{"p":1,"s":1,"x":80000,"y":5.01e-9},{"p":1,"s":1,"x":90000,"y":3.55e-9},{"p":1,"s":1,"x":100000,"y":2.51e-9},
{"p":1,"s":2,"x":0,"y":0.0631},{"p":1,"s":2,"x":1000,"y":0.0398},{"p":1,"s":2,"x":2500,"y":3.16e-6},{"p":1,"s":2,"x":5000,"y":1.58e-6},{"p":1,"s":2,"x":10000,"y":8.91e-7},{"p":1,"s":2,"x":20000,"y":5.01e-7},{"p":1,"s":2,"x":30000,"y":1.58e-7},{"p":1,"s":2,"x":40000,"y":4.47e-8},{"p":1,"s":2,"x":50000,"y":1.78e-8},{"p":1,"s":2,"x":60000,"y":1.12e-8},{"p":1,"s":2,"x":70000,"y":7.94e-9},{"p":1,"s":2,"x":80000,"y":5.62e-9},{"p":1,"s":2,"x":90000,"y":3.98e-9},{"p":1,"s":2,"x":100000,"y":2.82e-9},
{"p":1,"s":3,"x":0,"y":0.0631},{"p":1,"s":3,"x":1000,"y":0.0398},{"p":1,"s":3,"x":2500,"y":5.01e-6},{"p":1,"s":3,"x":5000,"y":2.51e-6},{"p":1,"s":3,"x":10000,"y":1.41e-6},{"p":1,"s":3,"x":20000,"y":7.08e-7},{"p":1,"s":3,"x":30000,"y":5.01e-7},{"p":1,"s":3,"x":40000,"y":3.98e-7},{"p":1,"s":3,"x":50000,"y":2.51e-7},{"p":1,"s":3,"x":60000,"y":1.41e-7},{"p":1,"s":3,"x":70000,"y":8.91e-8},{"p":1,"s":3,"x":80000,"y":7.08e-8},{"p":1,"s":3,"x":90000,"y":5.62e-8},{"p":1,"s":3,"x":100000,"y":4.47e-8},
{"p":1,"s":4,"x":0,"y":0.0631},{"p":1,"s":4,"x":1500,"y":0.0316},{"p":1,"s":4,"x":3000,"y":0.01},{"p":1,"s":4,"x":6000,"y":0.00794},{"p":1,"s":4,"x":9000,"y":0.00501},{"p":1,"s":4,"x":12000,"y":0.00355},{"p":1,"s":4,"x":15000,"y":0.00251},{"p":1,"s":4,"x":19000,"y":0.00398},{"p":1,"s":4,"x":23000,"y":0.002},{"p":1,"s":4,"x":28000,"y":5.62e-4},{"p":1,"s":4,"x":34000,"y":1.78e-4},{"p":1,"s":4,"x":42000,"y":7.94e-5},{"p":1,"s":4,"x":50000,"y":2.51e-5},{"p":1,"s":4,"x":60000,"y":1.26e-5},{"p":1,"s":4,"x":70000,"y":7.08e-6},{"p":1,"s":4,"x":80000,"y":5.62e-6},{"p":1,"s":4,"x":90000,"y":5.01e-6},{"p":1,"s":4,"x":100000,"y":7.94e-6},
{"p":1,"s":5,"x":0,"y":0.0631},{"p":1,"s":5,"x":1000,"y":0.0398},{"p":1,"s":5,"x":2500,"y":6.31e-6},{"p":1,"s":5,"x":5000,"y":2.82e-6},{"p":1,"s":5,"x":10000,"y":1.58e-6},{"p":1,"s":5,"x":20000,"y":8.91e-7},{"p":1,"s":5,"x":30000,"y":6.31e-7},{"p":1,"s":5,"x":40000,"y":5.01e-7},{"p":1,"s":5,"x":50000,"y":3.98e-7},{"p":1,"s":5,"x":60000,"y":2.51e-7},{"p":1,"s":5,"x":70000,"y":1.78e-7},{"p":1,"s":5,"x":80000,"y":1.41e-7},{"p":1,"s":5,"x":90000,"y":1.12e-7},{"p":1,"s":5,"x":100000,"y":8.91e-8},
{"p":2,"s":1,"x":0,"y":0.00501},{"p":2,"s":1,"x":1000,"y":0.00251},{"p":2,"s":1,"x":2500,"y":2.51e-7},{"p":2,"s":1,"x":5000,"y":1e-7},{"p":2,"s":1,"x":10000,"y":7.94e-8},{"p":2,"s":1,"x":20000,"y":5.01e-8},{"p":2,"s":1,"x":25000,"y":2.51e-8},{"p":2,"s":1,"x":30000,"y":5.01e-9},{"p":2,"s":1,"x":35000,"y":2.51e-9},{"p":2,"s":1,"x":45000,"y":1.58e-9},{"p":2,"s":1,"x":55000,"y":3.98e-10},{"p":2,"s":1,"x":65000,"y":2e-10},{"p":2,"s":1,"x":75000,"y":1.26e-10},{"p":2,"s":1,"x":85000,"y":1e-10},{"p":2,"s":1,"x":100000,"y":7.94e-11},
{"p":2,"s":2,"x":0,"y":0.00501},{"p":2,"s":2,"x":1000,"y":0.00251},{"p":2,"s":2,"x":2500,"y":2.82e-7},{"p":2,"s":2,"x":5000,"y":1.26e-7},{"p":2,"s":2,"x":10000,"y":1e-7},{"p":2,"s":2,"x":20000,"y":5.62e-8},{"p":2,"s":2,"x":27000,"y":2e-8},{"p":2,"s":2,"x":32000,"y":5.01e-9},{"p":2,"s":2,"x":40000,"y":2.51e-9},{"p":2,"s":2,"x":48000,"y":1.78e-9},{"p":2,"s":2,"x":57000,"y":5.01e-10},{"p":2,"s":2,"x":70000,"y":2.24e-10},{"p":2,"s":2,"x":83000,"y":1.58e-10},{"p":2,"s":2,"x":100000,"y":1.26e-10},
{"p":2,"s":3,"x":0,"y":0.00631},{"p":2,"s":3,"x":1000,"y":0.00316},{"p":2,"s":3,"x":2500,"y":2.51e-7},{"p":2,"s":3,"x":5000,"y":1.78e-7},{"p":2,"s":3,"x":10000,"y":1.12e-7},{"p":2,"s":3,"x":20000,"y":5.62e-8},{"p":2,"s":3,"x":32000,"y":5.01e-8},{"p":2,"s":3,"x":45000,"y":3.55e-8},{"p":2,"s":3,"x":57000,"y":1.78e-8},{"p":2,"s":3,"x":70000,"y":7.94e-9},{"p":2,"s":3,"x":85000,"y":4.47e-9},{"p":2,"s":3,"x":100000,"y":3.55e-9},
{"p":2,"s":4,"x":0,"y":0.00631},{"p":2,"s":4,"x":1500,"y":0.00447},{"p":2,"s":4,"x":6000,"y":0.00501},{"p":2,"s":4,"x":11000,"y":0.00224},{"p":2,"s":4,"x":16000,"y":0.00251},{"p":2,"s":4,"x":22000,"y":0.00112},{"p":2,"s":4,"x":29000,"y":1.41e-4},{"p":2,"s":4,"x":34000,"y":3.98e-5},{"p":2,"s":4,"x":40000,"y":2e-5},{"p":2,"s":4,"x":45000,"y":1e-5},{"p":2,"s":4,"x":50000,"y":2.51e-6},{"p":2,"s":4,"x":57000,"y":8.91e-7},{"p":2,"s":4,"x":65000,"y":7.94e-7},{"p":2,"s":4,"x":75000,"y":8.91e-7},{"p":2,"s":4,"x":85000,"y":1.26e-6},{"p":2,"s":4,"x":100000,"y":3.55e-6},
{"p":2,"s":5,"x":0,"y":0.00631},{"p":2,"s":5,"x":1000,"y":0.00316},{"p":2,"s":5,"x":2500,"y":2.51e-7},{"p":2,"s":5,"x":5000,"y":2e-7},{"p":2,"s":5,"x":10000,"y":1.26e-7},{"p":2,"s":5,"x":20000,"y":5.62e-8},{"p":2,"s":5,"x":32000,"y":4.47e-8},{"p":2,"s":5,"x":45000,"y":3.55e-8},{"p":2,"s":5,"x":57000,"y":2.82e-8},{"p":2,"s":5,"x":70000,"y":2e-8},{"p":2,"s":5,"x":85000,"y":1.58e-8},{"p":2,"s":5,"x":100000,"y":1.12e-8},
{"p":3,"s":1,"x":0,"y":0.01},{"p":3,"s":1,"x":1000,"y":0.00316},{"p":3,"s":1,"x":2500,"y":3.16e-7},{"p":3,"s":1,"x":5000,"y":2e-7},{"p":3,"s":1,"x":10000,"y":7.94e-8},{"p":3,"s":1,"x":15000,"y":1e-7},{"p":3,"s":1,"x":20000,"y":3.16e-8},{"p":3,"s":1,"x":25000,"y":2e-8},{"p":3,"s":1,"x":30000,"y":1.26e-8},{"p":3,"s":1,"x":35000,"y":7.94e-9},{"p":3,"s":1,"x":45000,"y":3.98e-9},{"p":3,"s":1,"x":55000,"y":1.78e-9},{"p":3,"s":1,"x":65000,"y":7.94e-10},{"p":3,"s":1,"x":75000,"y":5.62e-10},{"p":3,"s":1,"x":85000,"y":5.62e-10},{"p":3,"s":1,"x":100000,"y":6.31e-10},
{"p":3,"s":2,"x":0,"y":0.01},{"p":3,"s":2,"x":1000,"y":0.00316},{"p":3,"s":2,"x":2000,"y":1e-6},{"p":3,"s":2,"x":5000,"y":2.82e-7},{"p":3,"s":2,"x":10000,"y":1.12e-7},{"p":3,"s":2,"x":18000,"y":3.55e-8},{"p":3,"s":2,"x":26000,"y":1.78e-8},{"p":3,"s":2,"x":35000,"y":1.12e-8},{"p":3,"s":2,"x":46000,"y":1.12e-8},{"p":3,"s":2,"x":47000,"y":3.98e-9},{"p":3,"s":2,"x":60000,"y":1.58e-9},{"p":3,"s":2,"x":70000,"y":1.12e-9},{"p":3,"s":2,"x":85000,"y":7.94e-10},{"p":3,"s":2,"x":100000,"y":6.31e-10},
{"p":3,"s":3,"x":0,"y":0.0126},{"p":3,"s":3,"x":1000,"y":0.00501},{"p":3,"s":3,"x":2000,"y":2e-5},{"p":3,"s":3,"x":5000,"y":3.98e-7},{"p":3,"s":3,"x":10000,"y":3.16e-7},{"p":3,"s":3,"x":18000,"y":6.31e-8},{"p":3,"s":3,"x":30000,"y":1.58e-8},{"p":3,"s":3,"x":43000,"y":7.94e-9},{"p":3,"s":3,"x":57000,"y":5.01e-9},{"p":3,"s":3,"x":70000,"y":2.51e-9},{"p":3,"s":3,"x":83000,"y":1.78e-9},{"p":3,"s":3,"x":100000,"y":1.78e-9},
{"p":3,"s":4,"x":0,"y":0.00891},{"p":3,"s":4,"x":2500,"y":0.0251},{"p":3,"s":4,"x":5000,"y":0.0316},{"p":3,"s":4,"x":8000,"y":0.02},{"p":3,"s":4,"x":11000,"y":0.00631},{"p":3,"s":4,"x":15000,"y":0.00562},{"p":3,"s":4,"x":18500,"y":0.00447},{"p":3,"s":4,"x":22000,"y":0.00316},{"p":3,"s":4,"x":26000,"y":0.00126},{"p":3,"s":4,"x":30000,"y":3.16e-4},{"p":3,"s":4,"x":34000,"y":1e-4},{"p":3,"s":4,"x":41500,"y":3.16e-5},{"p":3,"s":4,"x":52000,"y":7.08e-6},{"p":3,"s":4,"x":60000,"y":2e-6},{"p":3,"s":4,"x":65000,"y":1.12e-6},{"p":3,"s":4,"x":77000,"y":1e-6},{"p":3,"s":4,"x":90000,"y":2.24e-6},{"p":3,"s":4,"x":100000,"y":7.08e-6},
{"p":3,"s":5,"x":0,"y":0.01},{"p":3,"s":5,"x":1000,"y":0.00398},{"p":3,"s":5,"x":3000,"y":5.01e-7},{"p":3,"s":5,"x":8000,"y":3.55e-7},{"p":3,"s":5,"x":16000,"y":2.24e-7},{"p":3,"s":5,"x":21000,"y":5.01e-8},{"p":3,"s":5,"x":29000,"y":1.78e-8},{"p":3,"s":5,"x":44000,"y":1e-8},{"p":3,"s":5,"x":57000,"y":7.94e-9},{"p":3,"s":5,"x":70000,"y":5.01e-9},{"p":3,"s":5,"x":77000,"y":2.82e-9},{"p":3,"s":5,"x":90000,"y":4.47e-9},{"p":3,"s":5,"x":100000,"y":1.12e-8},
{"p":4,"s":1,"x":0,"y":0.00398},{"p":4,"s":1,"x":1000,"y":0.002},{"p":4,"s":1,"x":2500,"y":2.51e-7},{"p":4,"s":1,"x":5000,"y":7.08e-8},{"p":4,"s":1,"x":10000,"y":2.51e-8},{"p":4,"s":1,"x":15000,"y":2e-8},{"p":4,"s":1,"x":20000,"y":6.31e-9},{"p":4,"s":1,"x":28000,"y":3.98e-9},{"p":4,"s":1,"x":40000,"y":1.58e-9},{"p":4,"s":1,"x":55000,"y":7.94e-10},{"p":4,"s":1,"x":70000,"y":6.31e-10},{"p":4,"s":1,"x":85000,"y":5.62e-10},{"p":4,"s":1,"x":100000,"y":5.01e-10},
{"p":4,"s":2,"x":0,"y":0.00398},{"p":4,"s":2,"x":1000,"y":0.002},{"p":4,"s":2,"x":2500,"y":3.98e-7},{"p":4,"s":2,"x":5000,"y":7.08e-8},{"p":4,"s":2,"x":12000,"y":5.01e-8},{"p":4,"s":2,"x":18000,"y":1.78e-8},{"p":4,"s":2,"x":28000,"y":4.47e-9},{"p":4,"s":2,"x":40000,"y":1.58e-9},{"p":4,"s":2,"x":53000,"y":5.62e-10},{"p":4,"s":2,"x":66000,"y":2.82e-10},{"p":4,"s":2,"x":79000,"y":1.41e-10},{"p":4,"s":2,"x":100000,"y":7.94e-11},
{"p":4,"s":3,"x":0,"y":0.00501},{"p":4,"s":3,"x":1000,"y":0.00316},{"p":4,"s":3,"x":2500,"y":3.98e-5},{"p":4,"s":3,"x":5000,"y":6.31e-7},{"p":4,"s":3,"x":10000,"y":2e-7},{"p":4,"s":3,"x":18000,"y":3.55e-8},{"p":4,"s":3,"x":28000,"y":4.47e-9},{"p":4,"s":3,"x":40000,"y":1.58e-9},{"p":4,"s":3,"x":53000,"y":7.94e-10},{"p":4,"s":3,"x":66000,"y":5.62e-10},{"p":4,"s":3,"x":79000,"y":5.01e-10},{"p":4,"s":3,"x":100000,"y":5.62e-10},
{"p":4,"s":4,"x":0,"y":0.01},{"p":4,"s":4,"x":4000,"y":0.00631},{"p":4,"s":4,"x":8000,"y":0.00355},{"p":4,"s":4,"x":15000,"y":0.00126},{"p":4,"s":4,"x":20000,"y":0.00112},{"p":4,"s":4,"x":28000,"y":2.24e-4},{"p":4,"s":4,"x":36000,"y":3.98e-5},{"p":4,"s":4,"x":43000,"y":7.08e-6},{"p":4,"s":4,"x":54000,"y":3.16e-6},{"p":4,"s":4,"x":66000,"y":7.94e-7},{"p":4,"s":4,"x":79000,"y":1.12e-6},{"p":4,"s":4,"x":92000,"y":2.24e-6},{"p":4,"s":4,"x":100000,"y":5.62e-6},
{"p":4,"s":5,"x":0,"y":0.00316},{"p":4,"s":5,"x":1000,"y":0.00158},{"p":4,"s":5,"x":2500,"y":1e-5},{"p":4,"s":5,"x":5000,"y":3.98e-7},{"p":4,"s":5,"x":10000,"y":2.82e-7},{"p":4,"s":5,"x":18000,"y":7.08e-8},{"p":4,"s":5,"x":28000,"y":1.26e-8},{"p":4,"s":5,"x":41000,"y":3.16e-9},{"p":4,"s":5,"x":53000,"y":1.58e-9},{"p":4,"s":5,"x":79000,"y":1.12e-9},{"p":4,"s":5,"x":100000,"y":8.91e-10},
{"p":5,"s":1,"x":0,"y":0.00158},{"p":5,"s":1,"x":1500,"y":1e-4},{"p":5,"s":1,"x":3000,"y":2.51e-8},{"p":5,"s":1,"x":7500,"y":2e-9},{"p":5,"s":1,"x":15000,"y":5.01e-9},{"p":5,"s":1,"x":28000,"y":1.26e-9},{"p":5,"s":1,"x":41000,"y":2e-10},{"p":5,"s":1,"x":55000,"y":7.94e-11},{"p":5,"s":1,"x":67000,"y":3.98e-11},{"p":5,"s":1,"x":80000,"y":1.26e-11},{"p":5,"s":1,"x":90000,"y":7.94e-12},{"p":5,"s":1,"x":100000,"y":5.01e-12},
{"p":5,"s":2,"x":0,"y":0.00158},{"p":5,"s":2,"x":1300,"y":3.16e-5},{"p":5,"s":2,"x":3500,"y":7.94e-8},{"p":5,"s":2,"x":5000,"y":2.24e-8},{"p":5,"s":2,"x":11000,"y":2.24e-8},{"p":5,"s":2,"x":11500,"y":2.51e-9},{"p":5,"s":2,"x":23000,"y":2.51e-9},{"p":5,"s":2,"x":23200,"y":2.24e-8},{"p":5,"s":2,"x":28200,"y":2.24e-8},{"p":5,"s":2,"x":28400,"y":1e-9},{"p":5,"s":2,"x":40000,"y":6.31e-10},{"p":5,"s":2,"x":41000,"y":2e-10},{"p":5,"s":2,"x":55000,"y":1.58e-10},{"p":5,"s":2,"x":60000,"y":3.98e-11},{"p":5,"s":2,"x":75000,"y":1.26e-11},{"p":5,"s":2,"x":90000,"y":7.94e-12},{"p":5,"s":2,"x":100000,"y":7.08e-12},
{"p":5,"s":3,"x":0,"y":0.00126},{"p":5,"s":3,"x":1300,"y":2.51e-4},{"p":5,"s":3,"x":2600,"y":6.31e-6},{"p":5,"s":3,"x":5000,"y":1.58e-7},{"p":5,"s":3,"x":10000,"y":2.51e-8},{"p":5,"s":3,"x":15000,"y":1.26e-8},{"p":5,"s":3,"x":23000,"y":4.47e-9},{"p":5,"s":3,"x":30000,"y":1.41e-9},{"p":5,"s":3,"x":41000,"y":4.47e-10},{"p":5,"s":3,"x":54000,"y":1.26e-10},{"p":5,"s":3,"x":67000,"y":4.47e-11},{"p":5,"s":3,"x":80000,"y":2.51e-11},{"p":5,"s":3,"x":100000,"y":1.41e-11},
{"p":5,"s":4,"x":0,"y":0.00501},{"p":5,"s":4,"x":5000,"y":0.00794},{"p":5,"s":4,"x":10000,"y":0.00251},{"p":5,"s":4,"x":15000,"y":7.94e-4},{"p":5,"s":4,"x":23000,"y":2.24e-4},{"p":5,"s":4,"x":31000,"y":3.16e-5},{"p":5,"s":4,"x":41000,"y":3.98e-6},{"p":5,"s":4,"x":51000,"y":1.78e-6},{"p":5,"s":4,"x":61500,"y":7.94e-7},{"p":5,"s":4,"x":72000,"y":2.51e-7},{"p":5,"s":4,"x":82000,"y":1.12e-7},{"p":5,"s":4,"x":92000,"y":8.91e-8},{"p":5,"s":4,"x":100000,"y":7.94e-8},
{"p":5,"s":5,"x":0,"y":0.00158},{"p":5,"s":5,"x":1300,"y":5.01e-4},{"p":5,"s":5,"x":2600,"y":6.31e-5},{"p":5,"s":5,"x":5000,"y":5.01e-7},{"p":5,"s":5,"x":10000,"y":5.01e-8},{"p":5,"s":5,"x":15000,"y":3.16e-8},{"p":5,"s":5,"x":23000,"y":7.08e-9},{"p":5,"s":5,"x":31000,"y":1e-9},{"p":5,"s":5,"x":41000,"y":3.98e-10},{"p":5,"s":5,"x":54000,"y":1.78e-10},{"p":5,"s":5,"x":67000,"y":5.62e-11},{"p":5,"s":5,"x":80000,"y":1.78e-11},{"p":5,"s":5,"x":100000,"y":1.12e-11},
{"p":6,"s":1,"x":0,"y":0.00398},{"p":6,"s":1,"x":1000,"y":0.00251},{"p":6,"s":1,"x":3000,"y":7.94e-6},{"p":6,"s":1,"x":10000,"y":7.08e-6},{"p":6,"s":1,"x":20000,"y":5.62e-6},{"p":6,"s":1,"x":30000,"y":4.47e-6},{"p":6,"s":1,"x":40000,"y":2.51e-6},{"p":6,"s":1,"x":50000,"y":1.12e-6},{"p":6,"s":1,"x":60000,"y":5.62e-7},{"p":6,"s":1,"x":70000,"y":2.82e-7},{"p":6,"s":1,"x":80000,"y":2e-7},{"p":6,"s":1,"x":100000,"y":1.78e-7},
{"p":6,"s":2,"x":0,"y":0.00398},{"p":6,"s":2,"x":1500,"y":0.002},{"p":6,"s":2,"x":3300,"y":7.94e-6},{"p":6,"s":2,"x":10000,"y":7.08e-6},{"p":6,"s":2,"x":17000,"y":1.12e-5},{"p":6,"s":2,"x":24000,"y":7.08e-6},{"p":6,"s":2,"x":32000,"y":5.01e-6},{"p":6,"s":2,"x":35000,"y":3.55e-6},{"p":6,"s":2,"x":46000,"y":3.55e-6},{"p":6,"s":2,"x":47000,"y":8.91e-6},{"p":6,"s":2,"x":50000,"y":8.91e-6},{"p":6,"s":2,"x":50500,"y":1.26e-6},{"p":6,"s":2,"x":56000,"y":1.26e-6},{"p":6,"s":2,"x":56500,"y":5.01e-7},{"p":6,"s":2,"x":61500,"y":5.01e-7},{"p":6,"s":2,"x":62000,"y":1e-6},{"p":6,"s":2,"x":63500,"y":1e-6},{"p":6,"s":2,"x":64000,"y":2.82e-7},{"p":6,"s":2,"x":70000,"y":1.78e-7},{"p":6,"s":2,"x":100000,"y":1.58e-7},
{"p":6,"s":3,"x":0,"y":0.0398},{"p":6,"s":3,"x":2500,"y":0.0158},{"p":6,"s":3,"x":5000,"y":2.82e-4},{"p":6,"s":3,"x":10000,"y":2.51e-4},{"p":6,"s":3,"x":17000,"y":3.98e-5},{"p":6,"s":3,"x":25000,"y":1.41e-5},{"p":6,"s":3,"x":40000,"y":1e-5},{"p":6,"s":3,"x":60000,"y":7.94e-6},{"p":6,"s":3,"x":80000,"y":6.31e-6},{"p":6,"s":3,"x":100000,"y":5.01e-6},
{"p":6,"s":4,"x":0,"y":2.51},{"p":6,"s":4,"x":2500,"y":6.31},{"p":6,"s":4,"x":5000,"y":12.3},{"p":6,"s":4,"x":8000,"y":7.94},{"p":6,"s":4,"x":11500,"y":5.62},{"p":6,"s":4,"x":15000,"y":7.08},{"p":6,"s":4,"x":19000,"y":6.31},{"p":6,"s":4,"x":24000,"y":2.24},{"p":6,"s":4,"x":32000,"y":0.112},{"p":6,"s":4,"x":40000,"y":0.0398},{"p":6,"s":4,"x":50000,"y":0.0158},{"p":6,"s":4,"x":60000,"y":0.00501},{"p":6,"s":4,"x":73000,"y":0.00251},{"p":6,"s":4,"x":86000,"y":0.00398},{"p":6,"s":4,"x":100000,"y":0.0112},
{"p":6,"s":5,"x":0,"y":0.0112},{"p":6,"s":5,"x":2500,"y":0.00501},{"p":6,"s":5,"x":5000,"y":2e-4},{"p":6,"s":5,"x":8000,"y":3.55e-4},{"p":6,"s":5,"x":17000,"y":5.01e-5},{"p":6,"s":5,"x":25000,"y":2e-5},{"p":6,"s":5,"x":35000,"y":1.26e-5},{"p":6,"s":5,"x":45000,"y":1.78e-5},{"p":6,"s":5,"x":55000,"y":1.41e-5},{"p":6,"s":5,"x":70000,"y":1.12e-5},{"p":6,"s":5,"x":85000,"y":1e-5},{"p":6,"s":5,"x":100000,"y":7.94e-6},
{"p":7,"s":1,"x":0,"y":0.0158},{"p":7,"s":1,"x":1500,"y":0.00501},{"p":7,"s":1,"x":3500,"y":6.31e-5},{"p":7,"s":1,"x":11000,"y":2.51e-5},{"p":7,"s":1,"x":22000,"y":8.91e-6},{"p":7,"s":1,"x":32000,"y":3.55e-6},{"p":7,"s":1,"x":45000,"y":1.78e-6},{"p":7,"s":1,"x":58000,"y":1e-6},{"p":7,"s":1,"x":70000,"y":7.08e-7},{"p":7,"s":1,"x":85000,"y":5.62e-7},{"p":7,"s":1,"x":100000,"y":5.37e-7},
{"p":7,"s":2,"x":0,"y":0.0158},{"p":7,"s":2,"x":1500,"y":0.00562},{"p":7,"s":2,"x":3500,"y":6.31e-5},{"p":7,"s":2,"x":11000,"y":2.51e-5},{"p":7,"s":2,"x":22000,"y":1.26e-5},{"p":7,"s":2,"x":32000,"y":4.47e-6},{"p":7,"s":2,"x":45000,"y":1e-6},{"p":7,"s":2,"x":58000,"y":3.16e-7},{"p":7,"s":2,"x":70000,"y":1.58e-7},{"p":7,"s":2,"x":85000,"y":1.32e-7},{"p":7,"s":2,"x":100000,"y":1.26e-7},
{"p":7,"s":3,"x":0,"y":0.0562},{"p":7,"s":3,"x":2500,"y":0.02},{"p":7,"s":3,"x":5000,"y":4.47e-4},{"p":7,"s":3,"x":11000,"y":2e-4},{"p":7,"s":3,"x":22000,"y":3.16e-5},{"p":7,"s":3,"x":32000,"y":1.78e-5},{"p":7,"s":3,"x":40000,"y":1.78e-5},{"p":7,"s":3,"x":47000,"y":8.91e-6},{"p":7,"s":3,"x":58000,"y":5.01e-6},{"p":7,"s":3,"x":75000,"y":3.55e-6},{"p":7,"s":3,"x":100000,"y":2.51e-6},
{"p":7,"s":4,"x":0,"y":1.41},{"p":7,"s":4,"x":4000,"y":4.27},{"p":7,"s":4,"x":9000,"y":1.78},{"p":7,"s":4,"x":17000,"y":1.41},{"p":7,"s":4,"x":22000,"y":1},{"p":7,"s":4,"x":27000,"y":0.282},{"p":7,"s":4,"x":32000,"y":0.141},{"p":7,"s":4,"x":40000,"y":0.0562},{"p":7,"s":4,"x":47000,"y":0.0158},{"p":7,"s":4,"x":58000,"y":0.00316},{"p":7,"s":4,"x":68000,"y":0.00112},{"p":7,"s":4,"x":78000,"y":0.00141},{"p":7,"s":4,"x":88000,"y":0.00251},{"p":7,"s":4,"x":100000,"y":0.00631},
{"p":7,"s":5,"x":0,"y":0.0316},{"p":7,"s":5,"x":2500,"y":0.0158},{"p":7,"s":5,"x":5000,"y":3.16e-4},{"p":7,"s":5,"x":11000,"y":1.58e-4},{"p":7,"s":5,"x":22000,"y":2.51e-5},{"p":7,"s":5,"x":32000,"y":1.26e-5},{"p":7,"s":5,"x":42000,"y":1.78e-5},{"p":7,"s":5,"x":45000,"y":6.31e-6},{"p":7,"s":5,"x":50000,"y":1.26e-5},{"p":7,"s":5,"x":58000,"y":5.62e-6},{"p":7,"s":5,"x":75000,"y":3.98e-6},{"p":7,"s":5,"x":100000,"y":3.55e-6},
{"p":8,"s":1,"x":0,"y":0.002},{"p":8,"s":1,"x":5000,"y":2e-4},{"p":8,"s":1,"x":13000,"y":5.01e-5},{"p":8,"s":1,"x":22000,"y":2.51e-5},{"p":8,"s":1,"x":22500,"y":6.31e-6},{"p":8,"s":1,"x":33000,"y":2.24e-6},{"p":8,"s":1,"x":44000,"y":1.41e-6},{"p":8,"s":1,"x":60000,"y":1.12e-6},{"p":8,"s":1,"x":80000,"y":8.91e-7},{"p":8,"s":1,"x":100000,"y":7.94e-7},
{"p":8,"s":2,"x":0,"y":0.002},{"p":8,"s":2,"x":5000,"y":2e-4},{"p":8,"s":2,"x":13000,"y":5.01e-5},{"p":8,"s":2,"x":24000,"y":2.51e-5},{"p":8,"s":2,"x":34000,"y":4.47e-6},{"p":8,"s":2,"x":44000,"y":1.58e-6},{"p":8,"s":2,"x":57000,"y":7.94e-7},{"p":8,"s":2,"x":70000,"y":4.47e-7},{"p":8,"s":2,"x":83000,"y":3.16e-7},{"p":8,"s":2,"x":100000,"y":2.24e-7},
{"p":8,"s":3,"x":0,"y":0.0891},{"p":8,"s":3,"x":2000,"y":0.0631},{"p":8,"s":3,"x":4500,"y":0.00112},{"p":8,"s":3,"x":13000,"y":3.98e-4},{"p":8,"s":3,"x":24000,"y":2e-4},{"p":8,"s":3,"x":34000,"y":1e-4},{"p":8,"s":3,"x":44000,"y":5.01e-5},{"p":8,"s":3,"x":57000,"y":1.78e-5},{"p":8,"s":3,"x":70000,"y":6.31e-6},{"p":8,"s":3,"x":83000,"y":3.98e-6},{"p":8,"s":3,"x":100000,"y":3.16e-6},
{"p":8,"s":4,"x":0,"y":0.447},{"p":8,"s":4,"x":1500,"y":10},{"p":8,"s":4,"x":4500,"y":35.5},{"p":8,"s":4,"x":8000,"y":20},{"p":8,"s":4,"x":13000,"y":11.2},{"p":8,"s":4,"x":18500,"y":15.8},{"p":8,"s":4,"x":22500,"y":7.08},{"p":8,"s":4,"x":28500,"y":0.0794},{"p":8,"s":4,"x":34000,"y":0.02},{"p":8,"s":4,"x":41500,"y":0.01},{"p":8,"s":4,"x":49000,"y":0.00355},{"p":8,"s":4,"x":57000,"y":0.002},{"p":8,"s":4,"x":70000,"y":0.001},{"p":8,"s":4,"x":83000,"y":0.00126},{"p":8,"s":4,"x":90000,"y":0.00224},{"p":8,"s":4,"x":100000,"y":0.00794},
{"p":8,"s":5,"x":0,"y":0.0447},{"p":8,"s":5,"x":2000,"y":0.0251},{"p":8,"s":5,"x":4500,"y":7.94e-4},{"p":8,"s":5,"x":13000,"y":2.51e-4},{"p":8,"s":5,"x":24000,"y":1e-4},{"p":8,"s":5,"x":29000,"y":1.41e-4},{"p":8,"s":5,"x":37000,"y":1.58e-4},{"p":8,"s":5,"x":42000,"y":7.08e-5},{"p":8,"s":5,"x":48000,"y":1.58e-4},{"p":8,"s":5,"x":52000,"y":3.98e-5},{"p":8,"s":5,"x":60000,"y":5.01e-5},{"p":8,"s":5,"x":65000,"y":1.78e-5},{"p":8,"s":5,"x":70000,"y":7.94e-6},{"p":8,"s":5,"x":83000,"y":6.31e-6},{"p":8,"s":5,"x":100000,"y":7.08e-6},
{"p":9,"s":1,"x":0,"y":0.891},{"p":9,"s":1,"x":7700,"y":0.468},{"p":9,"s":1,"x":15000,"y":0.38},{"p":9,"s":1,"x":30000,"y":0.372},{"p":9,"s":1,"x":50000,"y":0.355},{"p":9,"s":1,"x":75000,"y":0.316},{"p":9,"s":1,"x":100000,"y":0.295},
{"p":9,"s":2,"x":0,"y":0.741},{"p":9,"s":2,"x":7700,"y":0.468},{"p":9,"s":2,"x":15000,"y":0.251},{"p":9,"s":2,"x":20500,"y":0.135},{"p":9,"s":2,"x":25600,"y":0.178},{"p":9,"s":2,"x":30800,"y":0.251},{"p":9,"s":2,"x":36000,"y":0.214},{"p":9,"s":2,"x":41000,"y":0.117},{"p":9,"s":2,"x":46000,"y":0.0468},{"p":9,"s":2,"x":51300,"y":0.0186},{"p":9,"s":2,"x":55000,"y":0.0158},{"p":9,"s":2,"x":61500,"y":0.0251},{"p":9,"s":2,"x":74000,"y":0.0339},{"p":9,"s":2,"x":100000,"y":0.0398},
{"p":9,"s":3,"x":0,"y":1.17},{"p":9,"s":3,"x":5000,"y":0.741},{"p":9,"s":3,"x":7700,"y":0.339},{"p":9,"s":3,"x":10300,"y":0.537},{"p":9,"s":3,"x":12800,"y":0.537},{"p":9,"s":3,"x":15400,"y":0.117},{"p":9,"s":3,"x":18000,"y":0.0295},{"p":9,"s":3,"x":23000,"y":0.0135},{"p":9,"s":3,"x":28000,"y":0.00741},{"p":9,"s":3,"x":33000,"y":0.00468},{"p":9,"s":3,"x":38500,"y":0.00251},{"p":9,"s":3,"x":43500,"y":0.00339},{"p":9,"s":3,"x":48700,"y":0.00851},{"p":9,"s":3,"x":53800,"y":0.0186},{"p":9,"s":3,"x":64000,"y":0.0295},{"p":9,"s":3,"x":79500,"y":0.0363},{"p":9,"s":3,"x":100000,"y":0.0398},
{"p":9,"s":4,"x":0,"y":0.741},{"p":9,"s":4,"x":2600,"y":4.68},{"p":9,"s":4,"x":5100,"y":10},{"p":9,"s":4,"x":10300,"y":7.41},{"p":9,"s":4,"x":15400,"y":8.51},{"p":9,"s":4,"x":20500,"y":10},{"p":9,"s":4,"x":25600,"y":3.39},{"p":9,"s":4,"x":28000,"y":2.14},{"p":9,"s":4,"x":32000,"y":0.537},{"p":9,"s":4,"x":38500,"y":0.468},{"p":9,"s":4,"x":46000,"y":0.339},{"p":9,"s":4,"x":53800,"y":0.229},{"p":9,"s":4,"x":61500,"y":0.186},{"p":9,"s":4,"x":69200,"y":0.117},{"p":9,"s":4,"x":74400,"y":0.0676},{"p":9,"s":4,"x":79500,"y":0.135},{"p":9,"s":4,"x":87000,"y":0.275},{"p":9,"s":4,"x":95000,"y":0.427},{"p":9,"s":4,"x":100000,"y":0.468},
{"p":9,"s":5,"x":0,"y":1},{"p":9,"s":5,"x":2600,"y":0.891},{"p":9,"s":5,"x":5100,"y":0.537},{"p":9,"s":5,"x":10300,"y":0.214},{"p":9,"s":5,"x":14000,"y":0.0295},{"p":9,"s":5,"x":16700,"y":0.0631},{"p":9,"s":5,"x":20500,"y":0.0339},{"p":9,"s":5,"x":25600,"y":0.0295},{"p":9,"s":5,"x":30800,"y":0.0186},{"p":9,"s":5,"x":38500,"y":0.01},{"p":9,"s":5,"x":41000,"y":0.00398},{"p":9,"s":5,"x":46000,"y":0.00468},{"p":9,"s":5,"x":53800,"y":0.00851},{"p":9,"s":5,"x":61500,"y":0.00741},{"p":9,"s":5,"x":69200,"y":0.00468},{"p":9,"s":5,"x":79500,"y":0.00275},{"p":9,"s":5,"x":87000,"y":0.00339},{"p":9,"s":5,"x":95000,"y":0.00537},{"p":9,"s":5,"x":100000,"y":0.00275},
{"p":10,"s":1,"x":0,"y":1.38},{"p":10,"s":1,"x":15000,"y":0.933},{"p":10,"s":1,"x":50000,"y":0.912},{"p":10,"s":1,"x":100000,"y":0.871},
{"p":10,"s":2,"x":0,"y":1.29},{"p":10,"s":2,"x":7700,"y":0.933},{"p":10,"s":2,"x":12800,"y":0.724},{"p":10,"s":2,"x":18000,"y":0.525},{"p":10,"s":2,"x":23000,"y":0.724},{"p":10,"s":2,"x":28200,"y":0.933},{"p":10,"s":2,"x":33300,"y":0.832},{"p":10,"s":2,"x":38500,"y":0.501},{"p":10,"s":2,"x":43600,"y":0.24},{"p":10,"s":2,"x":48700,"y":0.112},{"p":10,"s":2,"x":53800,"y":0.0724},{"p":10,"s":2,"x":59000,"y":0.1},{"p":10,"s":2,"x":66700,"y":0.135},{"p":10,"s":2,"x":79500,"y":0.166},{"p":10,"s":2,"x":100000,"y":0.178},
{"p":10,"s":3,"x":0,"y":1.74},{"p":10,"s":3,"x":5100,"y":1.2},{"p":10,"s":3,"x":9000,"y":1.74},{"p":10,"s":3,"x":12800,"y":1.38},{"p":10,"s":3,"x":15400,"y":0.389},{"p":10,"s":3,"x":18000,"y":0.112},{"p":10,"s":3,"x":23000,"y":0.0537},{"p":10,"s":3,"x":30800,"y":0.0324},{"p":10,"s":3,"x":38500,"y":0.02},{"p":10,"s":3,"x":43600,"y":0.0174},{"p":10,"s":3,"x":48700,"y":0.0257},{"p":10,"s":3,"x":53800,"y":0.0692},{"p":10,"s":3,"x":61500,"y":0.129},{"p":10,"s":3,"x":71800,"y":0.166},{"p":10,"s":3,"x":100000,"y":0.178},
{"p":10,"s":4,"x":0,"y":10.5},{"p":10,"s":4,"x":2600,"y":6.92},{"p":10,"s":4,"x":5100,"y":4.17},{"p":10,"s":4,"x":10300,"y":3.72},{"p":10,"s":4,"x":15400,"y":3.24},{"p":10,"s":4,"x":19200,"y":4.17},{"p":10,"s":4,"x":23000,"y":2.24},{"p":10,"s":4,"x":28200,"y":1.74},{"p":10,"s":4,"x":35900,"y":1.55},{"p":10,"s":4,"x":41000,"y":1.62},{"p":10,"s":4,"x":48700,"y":1.12},{"p":10,"s":4,"x":56400,"y":0.832},{"p":10,"s":4,"x":66700,"y":0.794},{"p":10,"s":4,"x":71800,"y":0.575},{"p":10,"s":4,"x":74400,"y":0.417},{"p":10,"s":4,"x":82000,"y":1.07},{"p":10,"s":4,"x":89700,"y":1.38},{"p":10,"s":4,"x":100000,"y":1.74},
{"p":10,"s":5,"x":0,"y":1.38},{"p":10,"s":5,"x":3800,"y":1.55},{"p":10,"s":5,"x":6400,"y":1.2},{"p":10,"s":5,"x":9000,"y":1.74},{"p":10,"s":5,"x":12800,"y":0.646},{"p":10,"s":5,"x":15400,"y":0.145},{"p":10,"s":5,"x":18000,"y":0.309},{"p":10,"s":5,"x":23000,"y":0.112},{"p":10,"s":5,"x":28200,"y":0.0891},{"p":10,"s":5,"x":35900,"y":0.0417},{"p":10,"s":5,"x":41000,"y":0.0257},{"p":10,"s":5,"x":46000,"y":0.0288},{"p":10,"s":5,"x":53800,"y":0.0417},{"p":10,"s":5,"x":61500,"y":0.0257},{"p":10,"s":5,"x":71800,"y":0.0224},{"p":10,"s":5,"x":79500,"y":0.0138},{"p":10,"s":5,"x":87000,"y":0.02},{"p":10,"s":5,"x":92300,"y":0.0288},{"p":10,"s":5,"x":100000,"y":0.0162}
]
},
"resolve":{"scale":{"fill":"independent","stroke":"independent"}},
"spacing":5,
"vconcat":[
{
"hconcat":[
{"width":1,"height":1,"data":{"values":[{"t":""}]},"mark":{"type":"point","opacity":0},"encoding":{},"view":{"stroke":null}},
{
"vconcat":[
{"width":780,"height":62,"title":{"text":"Reference","fontSize":18,"offset":-7},
 "data":{"name":"R"},
 "mark":{"type":"rect","binSpacing":0,"clip":true},
 "encoding":{
  "x":{"field":"x","type":"quantitative","bin":{"binned":true,"step":0.52},"scale":{"domain":[0,15],"nice":false,"zero":false},"axis":{"values":[0,2,4,6,8,10,12,14],"labels":false,"title":null}},
  "y":{"field":"y","type":"quantitative","bin":{"binned":true,"step":0.066},"scale":{"domain":[-0.5,0.5],"nice":false,"zero":false},"axis":{"values":[-0.5,0,0.5],"format":".1f","labelFontSize":16,"title":"y","titleFontSize":19,"titleFontStyle":"italic","titlePadding":6}},
  "fill":{"field":"u","type":"quantitative","scale":{"type":"linear","domain":[0,0.37125,0.7425,1.11375,1.485],"range":["#00004c","#0000ff","#ffffff","#ff0000","#800000"],"interpolate":"rgb"},
   "legend":{"type":"gradient","title":"U","orient":"right","direction":"vertical","gradientLength":279,"gradientThickness":14,"values":[0,0.165,0.33,0.495,0.66,0.825,0.99,1.155,1.32,1.485],"format":".3f","labelFontSize":16,"labelOverlap":false,"titleOrient":"right","titleAngle":270,"titleFontSize":17,"titleFontWeight":"normal","titlePadding":4,"offset":9,"gradientStrokeColor":"#000","gradientStrokeWidth":0.8}}
 }},
{"width":780,"height":62,"title":{"text":"Baseline","fontSize":18,"offset":-7},
 "layer":[
  {"data":{"name":"B"},
   "mark":{"type":"rect","binSpacing":0,"clip":true},
   "encoding":{
    "x":{"field":"x","type":"quantitative","bin":{"binned":true,"step":0.52},"scale":{"domain":[0,15],"nice":false,"zero":false},"axis":{"values":[0,2,4,6,8,10,12,14],"labels":false,"title":null}},
    "y":{"field":"y","type":"quantitative","bin":{"binned":true,"step":0.066},"scale":{"domain":[-0.5,0.5],"nice":false,"zero":false},"axis":{"values":[-0.5,0,0.5],"format":".1f","labelFontSize":16,"title":"y","titleFontSize":19,"titleFontStyle":"italic","titlePadding":6}},
    "fill":{"field":"u","type":"quantitative","scale":{"type":"linear","domain":[0,0.37125,0.7425,1.11375,1.485],"range":["#00004c","#0000ff","#ffffff","#ff0000","#800000"],"interpolate":"rgb"}}
   }},
  {"data":{"values":[{"t":"Rel. L² error: 39.38%"}]},
   "mark":{"type":"rect","fill":"#ffffff","fillOpacity":0.8,"stroke":"#b5b5b5","strokeWidth":0.8,"cornerRadius":3},
   "encoding":{"x":{"datum":11.94},"x2":{"datum":14.96},"y":{"datum":-0.45},"y2":{"datum":-0.05}}},
  {"data":{"values":[{"t":"Rel. L² error: 39.38%"}]},
   "mark":{"type":"text","align":"right","baseline":"middle","fontSize":16,"dx":-4,"color":"#000"},
   "encoding":{"x":{"datum":14.96},"y":{"datum":-0.25},"text":{"field":"t"}}}
 ]},
{"width":780,"height":62,"title":{"text":"Adaptive pseudo-time stepping","fontSize":18,"offset":-7},
 "layer":[
  {"data":{"name":"R"},
   "mark":{"type":"rect","binSpacing":0,"clip":true},
   "encoding":{
    "x":{"field":"x","type":"quantitative","bin":{"binned":true,"step":0.52},"scale":{"domain":[0,15],"nice":false,"zero":false},"axis":{"values":[0,2,4,6,8,10,12,14],"format":"d","labelFontSize":16,"title":"x","titleFontSize":19,"titleFontStyle":"italic","titlePadding":0}},
    "y":{"field":"y","type":"quantitative","bin":{"binned":true,"step":0.066},"scale":{"domain":[-0.5,0.5],"nice":false,"zero":false},"axis":{"values":[-0.5,0,0.5],"format":".1f","labelFontSize":16,"title":"y","titleFontSize":19,"titleFontStyle":"italic","titlePadding":6}},
    "fill":{"field":"u","type":"quantitative","scale":{"type":"linear","domain":[0,0.37125,0.7425,1.11375,1.485],"range":["#00004c","#0000ff","#ffffff","#ff0000","#800000"],"interpolate":"rgb"}}
   }},
  {"data":{"values":[{"t":"Rel. L² error: 0.23%"}]},
   "mark":{"type":"rect","fill":"#ffffff","fillOpacity":0.8,"stroke":"#b5b5b5","strokeWidth":0.8,"cornerRadius":3},
   "encoding":{"x":{"datum":12.1},"x2":{"datum":14.96},"y":{"datum":-0.47},"y2":{"datum":-0.07}}},
  {"data":{"values":[{"t":"Rel. L² error: 0.23%"}]},
   "mark":{"type":"text","align":"right","baseline":"middle","fontSize":16,"dx":-4,"color":"#000"},
   "encoding":{"x":{"datum":14.96},"y":{"datum":-0.27},"text":{"field":"t"}}}
 ]}
],
"spacing":47,
"bounds":"flush",
"resolve":{"scale":{"fill":"shared"}}
}
],
"spacing":25,
"bounds":"flush"
},
{
"concat":[
{"width":143,"height":100,"title":{"text":"Inlet loss (u)","fontSize":14,"offset":4},"data":{"name":"L"},"transform":[{"filter":"datum.p==1"}],"mark":{"type":"line","strokeWidth":1.3,"clip":true},
 "encoding":{"x":{"field":"x","type":"quantitative","scale":{"domain":[-5000,105000],"nice":false,"zero":false},"axis":{"values":[0,50000,100000],"labels":false,"title":"Step","titleFontSize":14,"titlePadding":0}},
 "y":{"field":"y","type":"quantitative","scale":{"type":"log","domain":[1.1e-9,0.15],"nice":false},"axis":{"values":[0.001,0.000001],"title":null,"labelFontSize":12.5,"labelExpr":"'10'+replace(replace(replace(replace(replace(replace(replace(replace(''+round(log(datum.value)/LN10),'-','⁻'),'1','¹'),'2','²'),'3','³'),'4','⁴'),'5','⁵'),'6','⁶'),'8','⁸')"}},
 "stroke":{"field":"s","type":"nominal","legend":{"orient":"none","legendX":-28,"legendY":272,"direction":"horizontal","title":null,"symbolType":"stroke","symbolStrokeWidth":1.5,"symbolSize":625,"labelFontSize":13.25,"labelLimit":320,"labelOffset":9,"columnPadding":24,"labelExpr":"datum.value==1?'Baseline':datum.value==2?'Fixed pseudo-time (1/τ = 0.1)':datum.value==3?'Fixed pseudo-time (1/τ = 1)':datum.value==4?'Fixed pseudo-time (1/τ = 10)':'Adaptive pseudo-time'"}}}},
{"width":143,"height":100,"title":{"text":"Inlet loss (v)","fontSize":14,"offset":-1},"data":{"name":"L"},"transform":[{"filter":"datum.p==2"}],"mark":{"type":"line","strokeWidth":1.3,"clip":true},
 "encoding":{"x":{"field":"x","type":"quantitative","scale":{"domain":[-5000,105000],"nice":false,"zero":false},"axis":{"values":[0,50000,100000],"labels":false,"title":"Step","titleFontSize":14,"titlePadding":0}},
 "y":{"field":"y","type":"quantitative","scale":{"type":"log","domain":[2.8e-11,0.02],"nice":false},"axis":{"values":[0.01,0.00001,1e-8],"title":null,"labelFontSize":12.5,"labelExpr":"'10'+replace(replace(replace(replace(replace(replace(replace(replace(''+round(log(datum.value)/LN10),'-','⁻'),'1','¹'),'2','²'),'3','³'),'4','⁴'),'5','⁵'),'6','⁶'),'8','⁸')"}},
 "stroke":{"field":"s","type":"nominal"}}},
{"width":143,"height":100,"title":{"text":"Non-slip loss (u)","fontSize":14,"offset":4},"data":{"name":"L"},"transform":[{"filter":"datum.p==3"}],"mark":{"type":"line","strokeWidth":1.3,"clip":true},
 "encoding":{"x":{"field":"x","type":"quantitative","scale":{"domain":[-5000,105000],"nice":false,"zero":false},"axis":{"values":[0,50000,100000],"labels":false,"title":"Step","titleFontSize":14,"titlePadding":0}},
 "y":{"field":"y","type":"quantitative","scale":{"type":"log","domain":[2.3e-10,0.078],"nice":false},"axis":{"values":[0.01,0.00001,1e-8],"title":null,"labelFontSize":12.5,"labelExpr":"'10'+replace(replace(replace(replace(replace(replace(replace(replace(''+round(log(datum.value)/LN10),'-','⁻'),'1','¹'),'2','²'),'3','³'),'4','⁴'),'5','⁵'),'6','⁶'),'8','⁸')"}},
 "stroke":{"field":"s","type":"nominal"}}},
{"width":143,"height":100,"title":{"text":"Non-slip loss (v)","fontSize":14,"offset":0},"data":{"name":"L"},"transform":[{"filter":"datum.p==4"}],"mark":{"type":"line","strokeWidth":1.3,"clip":true},
 "encoding":{"x":{"field":"x","type":"quantitative","scale":{"domain":[-5000,105000],"nice":false,"zero":false},"axis":{"values":[0,50000,100000],"labels":false,"title":"Step","titleFontSize":14,"titlePadding":0}},
 "y":{"field":"y","type":"quantitative","scale":{"type":"log","domain":[2.95e-11,0.025],"nice":false},"axis":{"values":[0.01,0.00001,1e-8],"title":null,"labelFontSize":12.5,"labelExpr":"'10'+replace(replace(replace(replace(replace(replace(replace(replace(''+round(log(datum.value)/LN10),'-','⁻'),'1','¹'),'2','²'),'3','³'),'4','⁴'),'5','⁵'),'6','⁶'),'8','⁸')"}},
 "stroke":{"field":"s","type":"nominal"}}},
{"width":143,"height":100,"title":{"text":"Outlet loss (p)","fontSize":14,"offset":4},"data":{"name":"L"},"transform":[{"filter":"datum.p==5"}],"mark":{"type":"line","strokeWidth":1.3,"clip":true},
 "encoding":{"x":{"field":"x","type":"quantitative","scale":{"domain":[-5000,105000],"nice":false,"zero":false},"axis":{"values":[0,50000,100000],"labels":false,"title":"Step","titleFontSize":14,"titlePadding":0}},
 "y":{"field":"y","type":"quantitative","scale":{"type":"log","domain":[1.4e-12,0.025],"nice":false},"axis":{"values":[0.0001,1e-8],"title":null,"labelFontSize":12.5,"labelExpr":"'10'+replace(replace(replace(replace(replace(replace(replace(replace(''+round(log(datum.value)/LN10),'-','⁻'),'1','¹'),'2','²'),'3','³'),'4','⁴'),'5','⁵'),'6','⁶'),'8','⁸')"}},
 "stroke":{"field":"s","type":"nominal"}}},
{"width":143,"height":100,"title":{"text":"Momentum loss (u)","fontSize":14,"offset":2},"data":{"name":"L"},"transform":[{"filter":"datum.p==6"}],"mark":{"type":"line","strokeWidth":1.3,"clip":true},
 "encoding":{"x":{"field":"x","type":"quantitative","scale":{"domain":[-5000,105000],"nice":false,"zero":false},"axis":{"values":[0,50000,100000],"format":"d","labelFontSize":12.5,"title":"Step","titleFontSize":14,"titlePadding":2}},
 "y":{"field":"y","type":"quantitative","scale":{"type":"log","domain":[6.3e-8,31],"nice":false},"axis":{"values":[10,0.01,0.00001],"title":null,"labelFontSize":12.5,"labelExpr":"'10'+replace(replace(replace(replace(replace(replace(replace(replace(''+round(log(datum.value)/LN10),'-','⁻'),'1','¹'),'2','²'),'3','³'),'4','⁴'),'5','⁵'),'6','⁶'),'8','⁸')"}},
 "stroke":{"field":"s","type":"nominal"}}},
{"width":143,"height":100,"title":{"text":"Momentum loss (v)","fontSize":14,"offset":-4},"data":{"name":"L"},"transform":[{"filter":"datum.p==7"}],"mark":{"type":"line","strokeWidth":1.3,"clip":true},
 "encoding":{"x":{"field":"x","type":"quantitative","scale":{"domain":[-5000,105000],"nice":false,"zero":false},"axis":{"values":[0,50000,100000],"format":"d","labelFontSize":12.5,"title":"Step","titleFontSize":14,"titlePadding":2}},
 "y":{"field":"y","type":"quantitative","scale":{"type":"log","domain":[5e-8,12],"nice":false},"axis":{"values":[10,0.01,0.00001],"title":null,"labelFontSize":12.5,"labelExpr":"'10'+replace(replace(replace(replace(replace(replace(replace(replace(''+round(log(datum.value)/LN10),'-','⁻'),'1','¹'),'2','²'),'3','³'),'4','⁴'),'5','⁵'),'6','⁶'),'8','⁸')"}},
 "stroke":{"field":"s","type":"nominal"}}},
{"width":143,"height":100,"title":{"text":"Continuity loss","fontSize":14,"offset":2},"data":{"name":"L"},"transform":[{"filter":"datum.p==8"}],"mark":{"type":"line","strokeWidth":1.3,"clip":true},
 "encoding":{"x":{"field":"x","type":"quantitative","scale":{"domain":[-5000,105000],"nice":false,"zero":false},"axis":{"values":[0,50000,100000],"format":"d","labelFontSize":12.5,"title":"Step","titleFontSize":14,"titlePadding":2}},
 "y":{"field":"y","type":"quantitative","scale":{"type":"log","domain":[9e-8,90],"nice":false},"axis":{"values":[10,0.01,0.00001],"title":null,"labelFontSize":12.5,"labelExpr":"'10'+replace(replace(replace(replace(replace(replace(replace(replace(''+round(log(datum.value)/LN10),'-','⁻'),'1','¹'),'2','²'),'3','³'),'4','⁴'),'5','⁵'),'6','⁶'),'8','⁸')"}},
 "stroke":{"field":"s","type":"nominal"}}},
{"width":143,"height":100,"title":{"text":"Rel. L² error (u)","fontSize":14,"offset":0},"data":{"name":"L"},"transform":[{"filter":"datum.p==9"}],"mark":{"type":"line","strokeWidth":1.3,"clip":true},
 "encoding":{"x":{"field":"x","type":"quantitative","scale":{"domain":[-5000,105000],"nice":false,"zero":false},"axis":{"values":[0,50000,100000],"format":"d","labelFontSize":12.5,"title":"Step","titleFontSize":14,"titlePadding":2}},
 "y":{"field":"y","type":"quantitative","scale":{"type":"log","domain":[0.00166,15],"nice":false},"axis":{"values":[10,0.1],"title":null,"labelFontSize":12.5,"labelExpr":"'10'+replace(replace(replace(replace(replace(replace(replace(replace(''+round(log(datum.value)/LN10),'-','⁻'),'1','¹'),'2','²'),'3','³'),'4','⁴'),'5','⁵'),'6','⁶'),'8','⁸')"}},
 "stroke":{"field":"s","type":"nominal"}}},
{"width":143,"height":100,"title":{"text":"Rel. L² error (v)","fontSize":14,"offset":2},"data":{"name":"L"},"transform":[{"filter":"datum.p==10"}],"mark":{"type":"line","strokeWidth":1.3,"clip":true},
 "encoding":{"x":{"field":"x","type":"quantitative","scale":{"domain":[-5000,105000],"nice":false,"zero":false},"axis":{"values":[0,50000,100000],"format":"d","labelFontSize":12.5,"title":"Step","titleFontSize":14,"titlePadding":2}},
 "y":{"field":"y","type":"quantitative","scale":{"type":"log","domain":[0.0095,15],"nice":false},"axis":{"values":[10,0.1],"title":null,"labelFontSize":12.5,"labelExpr":"'10'+replace(replace(replace(replace(replace(replace(replace(replace(''+round(log(datum.value)/LN10),'-','⁻'),'1','¹'),'2','²'),'3','³'),'4','⁴'),'5','⁵'),'6','⁶'),'8','⁸')"}},
 "stroke":{"field":"s","type":"nominal"}}}
],
"columns":5,
"spacing":{"row":39,"column":40},
"bounds":"flush",
"resolve":{"scale":{"stroke":"shared"}}
}
]
}
